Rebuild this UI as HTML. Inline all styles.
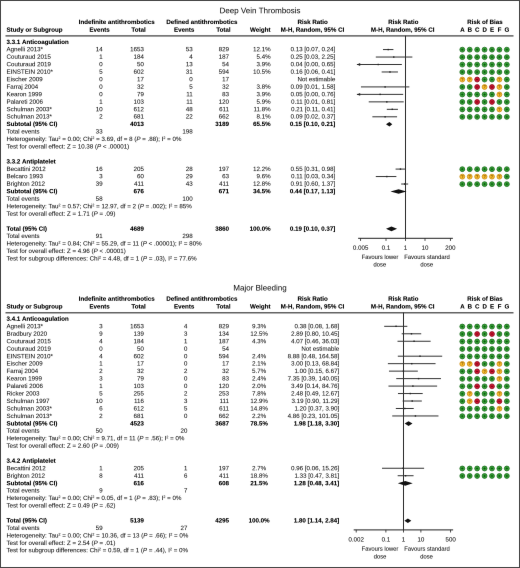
<!DOCTYPE html>
<html><head><meta charset="utf-8"><style>
html,body{margin:0;padding:0;background:#fff;}
#c{position:relative;width:520px;height:568px;overflow:hidden;background:#fff;filter:url(#kb);}
#bd{position:absolute;left:0;top:0;width:518px;height:566px;border:1px solid #454545;}
.t{position:absolute;white-space:nowrap;text-rendering:geometricPrecision;font-family:"Liberation Sans",sans-serif;line-height:10.0px;}
.t sup{font-size:60%;vertical-align:0;position:relative;top:-0.5em;line-height:0;}
svg{position:absolute;left:0;top:0;}
#tc{position:absolute;left:0;top:0;width:520px;height:568px;}
#c.cv .t{visibility:hidden;}
</style></head><body>
<svg width="0" height="0" style="position:absolute"><defs><filter id="kb" x="0" y="0" width="100%" height="100%" color-interpolation-filters="sRGB"><feConvolveMatrix order="3" kernelMatrix="0.0016 0.0371 0.0016 0.0371 0.8450 0.0371 0.0016 0.0371 0.0016" edgeMode="duplicate" preserveAlpha="true"/></filter></defs></svg>
<div id="c">
<svg width="520" height="568" viewBox="0 0 520 568"><rect x="5.5" y="35.30" width="508" height="1.2" fill="#3c3c3c"/>
<rect x="405.00" y="35.70" width="1" height="202.60" fill="#2a2a2a"/>
<rect x="358.13" y="237.80" width="94.74" height="1" fill="#222"/>
<rect x="360.23" y="238.30" width="0.8" height="2.6" fill="#222"/>
<rect x="385.60" y="238.30" width="0.8" height="2.6" fill="#222"/>
<rect x="405.10" y="238.30" width="0.8" height="2.6" fill="#222"/>
<rect x="424.60" y="238.30" width="0.8" height="2.6" fill="#222"/>
<rect x="449.97" y="238.30" width="0.8" height="2.6" fill="#222"/>
<line x1="382.98" y1="49.57" x2="393.41" y2="49.57" stroke="#333" stroke-width="1.0"/>
<rect x="387.52" y="48.87" width="1.4" height="1.4" fill="#222"/>
<circle cx="462.30" cy="49.67" r="2.45" fill="#35a534" stroke="#1d6a1f" stroke-width="0.80"/>
<path d="M461.20 49.67h2.2M462.30 48.57v2.2" stroke="#0b4a10" stroke-width="0.7"/>
<circle cx="469.72" cy="49.67" r="2.45" fill="#35a534" stroke="#1d6a1f" stroke-width="0.80"/>
<path d="M468.62 49.67h2.2M469.72 48.57v2.2" stroke="#0b4a10" stroke-width="0.7"/>
<circle cx="477.14" cy="49.67" r="2.45" fill="#35a534" stroke="#1d6a1f" stroke-width="0.80"/>
<path d="M476.04 49.67h2.2M477.14 48.57v2.2" stroke="#0b4a10" stroke-width="0.7"/>
<circle cx="484.56" cy="49.67" r="2.45" fill="#35a534" stroke="#1d6a1f" stroke-width="0.80"/>
<path d="M483.46 49.67h2.2M484.56 48.57v2.2" stroke="#0b4a10" stroke-width="0.7"/>
<circle cx="491.98" cy="49.67" r="2.45" fill="#35a534" stroke="#1d6a1f" stroke-width="0.80"/>
<path d="M490.88 49.67h2.2M491.98 48.57v2.2" stroke="#0b4a10" stroke-width="0.7"/>
<circle cx="499.40" cy="49.67" r="2.45" fill="#35a534" stroke="#1d6a1f" stroke-width="0.80"/>
<path d="M498.30 49.67h2.2M499.40 48.57v2.2" stroke="#0b4a10" stroke-width="0.7"/>
<circle cx="506.82" cy="49.67" r="2.45" fill="#35a534" stroke="#1d6a1f" stroke-width="0.80"/>
<path d="M505.72 49.67h2.2M506.82 48.57v2.2" stroke="#0b4a10" stroke-width="0.7"/>
<line x1="375.80" y1="57.04" x2="412.37" y2="57.04" stroke="#333" stroke-width="1.0"/>
<rect x="393.06" y="56.34" width="1.4" height="1.4" fill="#222"/>
<circle cx="462.30" cy="57.14" r="2.45" fill="#35a534" stroke="#1d6a1f" stroke-width="0.80"/>
<path d="M461.20 57.14h2.2M462.30 56.04v2.2" stroke="#0b4a10" stroke-width="0.7"/>
<circle cx="469.72" cy="57.14" r="2.45" fill="#35a534" stroke="#1d6a1f" stroke-width="0.80"/>
<path d="M468.62 57.14h2.2M469.72 56.04v2.2" stroke="#0b4a10" stroke-width="0.7"/>
<circle cx="477.14" cy="57.14" r="2.45" fill="#35a534" stroke="#1d6a1f" stroke-width="0.80"/>
<path d="M476.04 57.14h2.2M477.14 56.04v2.2" stroke="#0b4a10" stroke-width="0.7"/>
<circle cx="484.56" cy="57.14" r="2.45" fill="#35a534" stroke="#1d6a1f" stroke-width="0.80"/>
<path d="M483.46 57.14h2.2M484.56 56.04v2.2" stroke="#0b4a10" stroke-width="0.7"/>
<circle cx="491.98" cy="57.14" r="2.45" fill="#35a534" stroke="#1d6a1f" stroke-width="0.80"/>
<path d="M490.88 57.14h2.2M491.98 56.04v2.2" stroke="#0b4a10" stroke-width="0.7"/>
<circle cx="499.40" cy="57.14" r="2.45" fill="#35a534" stroke="#1d6a1f" stroke-width="0.80"/>
<path d="M498.30 57.14h2.2M499.40 56.04v2.2" stroke="#0b4a10" stroke-width="0.7"/>
<circle cx="506.82" cy="57.14" r="2.45" fill="#35a534" stroke="#1d6a1f" stroke-width="0.80"/>
<path d="M505.72 57.14h2.2M506.82 56.04v2.2" stroke="#0b4a10" stroke-width="0.7"/>
<line x1="356.90" y1="64.51" x2="401.85" y2="64.51" stroke="#333" stroke-width="1.0"/>
<rect x="377.54" y="63.81" width="1.4" height="1.4" fill="#222"/>
<path d="M356.90 64.51 l3.3 -1.45 v2.9z" fill="#222"/>
<circle cx="462.30" cy="64.61" r="2.45" fill="#35a534" stroke="#1d6a1f" stroke-width="0.80"/>
<path d="M461.20 64.61h2.2M462.30 63.51v2.2" stroke="#0b4a10" stroke-width="0.7"/>
<circle cx="469.72" cy="64.61" r="2.45" fill="#35a534" stroke="#1d6a1f" stroke-width="0.80"/>
<path d="M468.62 64.61h2.2M469.72 63.51v2.2" stroke="#0b4a10" stroke-width="0.7"/>
<circle cx="477.14" cy="64.61" r="2.45" fill="#35a534" stroke="#1d6a1f" stroke-width="0.80"/>
<path d="M476.04 64.61h2.2M477.14 63.51v2.2" stroke="#0b4a10" stroke-width="0.7"/>
<circle cx="484.56" cy="64.61" r="2.45" fill="#35a534" stroke="#1d6a1f" stroke-width="0.80"/>
<path d="M483.46 64.61h2.2M484.56 63.51v2.2" stroke="#0b4a10" stroke-width="0.7"/>
<circle cx="491.98" cy="64.61" r="2.45" fill="#35a534" stroke="#1d6a1f" stroke-width="0.80"/>
<path d="M490.88 64.61h2.2M491.98 63.51v2.2" stroke="#0b4a10" stroke-width="0.7"/>
<circle cx="499.40" cy="64.61" r="2.45" fill="#35a534" stroke="#1d6a1f" stroke-width="0.80"/>
<path d="M498.30 64.61h2.2M499.40 63.51v2.2" stroke="#0b4a10" stroke-width="0.7"/>
<circle cx="506.82" cy="64.61" r="2.45" fill="#35a534" stroke="#1d6a1f" stroke-width="0.80"/>
<path d="M505.72 64.61h2.2M506.82 63.51v2.2" stroke="#0b4a10" stroke-width="0.7"/>
<line x1="381.67" y1="71.98" x2="397.95" y2="71.98" stroke="#333" stroke-width="1.0"/>
<rect x="389.28" y="71.28" width="1.4" height="1.4" fill="#222"/>
<circle cx="462.30" cy="72.08" r="2.45" fill="#35a534" stroke="#1d6a1f" stroke-width="0.80"/>
<path d="M461.20 72.08h2.2M462.30 70.98v2.2" stroke="#0b4a10" stroke-width="0.7"/>
<circle cx="469.72" cy="72.08" r="2.45" fill="#35a534" stroke="#1d6a1f" stroke-width="0.80"/>
<path d="M468.62 72.08h2.2M469.72 70.98v2.2" stroke="#0b4a10" stroke-width="0.7"/>
<circle cx="477.14" cy="72.08" r="2.45" fill="#35a534" stroke="#1d6a1f" stroke-width="0.80"/>
<path d="M476.04 72.08h2.2M477.14 70.98v2.2" stroke="#0b4a10" stroke-width="0.7"/>
<circle cx="484.56" cy="72.08" r="2.45" fill="#35a534" stroke="#1d6a1f" stroke-width="0.80"/>
<path d="M483.46 72.08h2.2M484.56 70.98v2.2" stroke="#0b4a10" stroke-width="0.7"/>
<circle cx="491.98" cy="72.08" r="2.45" fill="#35a534" stroke="#1d6a1f" stroke-width="0.80"/>
<path d="M490.88 72.08h2.2M491.98 70.98v2.2" stroke="#0b4a10" stroke-width="0.7"/>
<circle cx="499.40" cy="72.08" r="2.45" fill="#35a534" stroke="#1d6a1f" stroke-width="0.80"/>
<path d="M498.30 72.08h2.2M499.40 70.98v2.2" stroke="#0b4a10" stroke-width="0.7"/>
<circle cx="506.82" cy="72.08" r="2.45" fill="#35a534" stroke="#1d6a1f" stroke-width="0.80"/>
<path d="M505.72 72.08h2.2M506.82 70.98v2.2" stroke="#0b4a10" stroke-width="0.7"/>
<circle cx="462.30" cy="79.55" r="2.45" fill="#f5b92c" stroke="#c98a12" stroke-width="0.80"/>
<text x="462.30" y="80.90" font-size="3.8" text-anchor="middle" fill="#7a5000" font-family="Liberation Sans" font-weight="bold">?</text>
<circle cx="469.72" cy="79.55" r="2.45" fill="#f5b92c" stroke="#c98a12" stroke-width="0.80"/>
<text x="469.72" y="80.90" font-size="3.8" text-anchor="middle" fill="#7a5000" font-family="Liberation Sans" font-weight="bold">?</text>
<circle cx="477.14" cy="79.55" r="2.45" fill="#cc1530" stroke="#8a0a1e" stroke-width="0.80"/>
<path d="M476.04 79.55h2.2" stroke="#5a0008" stroke-width="0.7"/>
<circle cx="484.56" cy="79.55" r="2.45" fill="#35a534" stroke="#1d6a1f" stroke-width="0.80"/>
<path d="M483.46 79.55h2.2M484.56 78.45v2.2" stroke="#0b4a10" stroke-width="0.7"/>
<circle cx="491.98" cy="79.55" r="2.45" fill="#35a534" stroke="#1d6a1f" stroke-width="0.80"/>
<path d="M490.88 79.55h2.2M491.98 78.45v2.2" stroke="#0b4a10" stroke-width="0.7"/>
<circle cx="499.40" cy="79.55" r="2.45" fill="#f5b92c" stroke="#c98a12" stroke-width="0.80"/>
<text x="499.40" y="80.90" font-size="3.8" text-anchor="middle" fill="#7a5000" font-family="Liberation Sans" font-weight="bold">?</text>
<circle cx="506.82" cy="79.55" r="2.45" fill="#35a534" stroke="#1d6a1f" stroke-width="0.80"/>
<path d="M505.72 79.55h2.2M506.82 78.45v2.2" stroke="#0b4a10" stroke-width="0.7"/>
<line x1="360.96" y1="86.92" x2="409.37" y2="86.92" stroke="#333" stroke-width="1.0"/>
<rect x="384.41" y="86.22" width="1.4" height="1.4" fill="#222"/>
<circle cx="462.30" cy="87.02" r="2.45" fill="#35a534" stroke="#1d6a1f" stroke-width="0.80"/>
<path d="M461.20 87.02h2.2M462.30 85.92v2.2" stroke="#0b4a10" stroke-width="0.7"/>
<circle cx="469.72" cy="87.02" r="2.45" fill="#35a534" stroke="#1d6a1f" stroke-width="0.80"/>
<path d="M468.62 87.02h2.2M469.72 85.92v2.2" stroke="#0b4a10" stroke-width="0.7"/>
<circle cx="477.14" cy="87.02" r="2.45" fill="#cc1530" stroke="#8a0a1e" stroke-width="0.80"/>
<path d="M476.04 87.02h2.2" stroke="#5a0008" stroke-width="0.7"/>
<circle cx="484.56" cy="87.02" r="2.45" fill="#f5b92c" stroke="#c98a12" stroke-width="0.80"/>
<text x="484.56" y="88.37" font-size="3.8" text-anchor="middle" fill="#7a5000" font-family="Liberation Sans" font-weight="bold">?</text>
<circle cx="491.98" cy="87.02" r="2.45" fill="#cc1530" stroke="#8a0a1e" stroke-width="0.80"/>
<path d="M490.88 87.02h2.2" stroke="#5a0008" stroke-width="0.7"/>
<circle cx="499.40" cy="87.02" r="2.45" fill="#f5b92c" stroke="#c98a12" stroke-width="0.80"/>
<text x="499.40" y="88.37" font-size="3.8" text-anchor="middle" fill="#7a5000" font-family="Liberation Sans" font-weight="bold">?</text>
<circle cx="506.82" cy="87.02" r="2.45" fill="#35a534" stroke="#1d6a1f" stroke-width="0.80"/>
<path d="M505.72 87.02h2.2M506.82 85.92v2.2" stroke="#0b4a10" stroke-width="0.7"/>
<line x1="356.90" y1="94.39" x2="403.18" y2="94.39" stroke="#333" stroke-width="1.0"/>
<rect x="379.43" y="93.69" width="1.4" height="1.4" fill="#222"/>
<path d="M356.90 94.39 l3.3 -1.45 v2.9z" fill="#222"/>
<circle cx="462.30" cy="94.49" r="2.45" fill="#35a534" stroke="#1d6a1f" stroke-width="0.80"/>
<path d="M461.20 94.49h2.2M462.30 93.39v2.2" stroke="#0b4a10" stroke-width="0.7"/>
<circle cx="469.72" cy="94.49" r="2.45" fill="#35a534" stroke="#1d6a1f" stroke-width="0.80"/>
<path d="M468.62 94.49h2.2M469.72 93.39v2.2" stroke="#0b4a10" stroke-width="0.7"/>
<circle cx="477.14" cy="94.49" r="2.45" fill="#35a534" stroke="#1d6a1f" stroke-width="0.80"/>
<path d="M476.04 94.49h2.2M477.14 93.39v2.2" stroke="#0b4a10" stroke-width="0.7"/>
<circle cx="484.56" cy="94.49" r="2.45" fill="#35a534" stroke="#1d6a1f" stroke-width="0.80"/>
<path d="M483.46 94.49h2.2M484.56 93.39v2.2" stroke="#0b4a10" stroke-width="0.7"/>
<circle cx="491.98" cy="94.49" r="2.45" fill="#35a534" stroke="#1d6a1f" stroke-width="0.80"/>
<path d="M490.88 94.49h2.2M491.98 93.39v2.2" stroke="#0b4a10" stroke-width="0.7"/>
<circle cx="499.40" cy="94.49" r="2.45" fill="#f5b92c" stroke="#c98a12" stroke-width="0.80"/>
<text x="499.40" y="95.84" font-size="3.8" text-anchor="middle" fill="#7a5000" font-family="Liberation Sans" font-weight="bold">?</text>
<circle cx="506.82" cy="94.49" r="2.45" fill="#35a534" stroke="#1d6a1f" stroke-width="0.80"/>
<path d="M505.72 94.49h2.2M506.82 93.39v2.2" stroke="#0b4a10" stroke-width="0.7"/>
<line x1="368.72" y1="101.86" x2="403.72" y2="101.86" stroke="#333" stroke-width="1.0"/>
<rect x="386.11" y="101.16" width="1.4" height="1.4" fill="#222"/>
<circle cx="462.30" cy="101.96" r="2.45" fill="#35a534" stroke="#1d6a1f" stroke-width="0.80"/>
<path d="M461.20 101.96h2.2M462.30 100.86v2.2" stroke="#0b4a10" stroke-width="0.7"/>
<circle cx="469.72" cy="101.96" r="2.45" fill="#35a534" stroke="#1d6a1f" stroke-width="0.80"/>
<path d="M468.62 101.96h2.2M469.72 100.86v2.2" stroke="#0b4a10" stroke-width="0.7"/>
<circle cx="477.14" cy="101.96" r="2.45" fill="#cc1530" stroke="#8a0a1e" stroke-width="0.80"/>
<path d="M476.04 101.96h2.2" stroke="#5a0008" stroke-width="0.7"/>
<circle cx="484.56" cy="101.96" r="2.45" fill="#35a534" stroke="#1d6a1f" stroke-width="0.80"/>
<path d="M483.46 101.96h2.2M484.56 100.86v2.2" stroke="#0b4a10" stroke-width="0.7"/>
<circle cx="491.98" cy="101.96" r="2.45" fill="#cc1530" stroke="#8a0a1e" stroke-width="0.80"/>
<path d="M490.88 101.96h2.2" stroke="#5a0008" stroke-width="0.7"/>
<circle cx="499.40" cy="101.96" r="2.45" fill="#35a534" stroke="#1d6a1f" stroke-width="0.80"/>
<path d="M498.30 101.96h2.2M499.40 100.86v2.2" stroke="#0b4a10" stroke-width="0.7"/>
<circle cx="506.82" cy="101.96" r="2.45" fill="#35a534" stroke="#1d6a1f" stroke-width="0.80"/>
<path d="M505.72 101.96h2.2M506.82 100.86v2.2" stroke="#0b4a10" stroke-width="0.7"/>
<line x1="386.81" y1="109.33" x2="397.95" y2="109.33" stroke="#333" stroke-width="1.0"/>
<rect x="391.58" y="108.63" width="1.4" height="1.4" fill="#222"/>
<circle cx="462.30" cy="109.43" r="2.45" fill="#35a534" stroke="#1d6a1f" stroke-width="0.80"/>
<path d="M461.20 109.43h2.2M462.30 108.33v2.2" stroke="#0b4a10" stroke-width="0.7"/>
<circle cx="469.72" cy="109.43" r="2.45" fill="#35a534" stroke="#1d6a1f" stroke-width="0.80"/>
<path d="M468.62 109.43h2.2M469.72 108.33v2.2" stroke="#0b4a10" stroke-width="0.7"/>
<circle cx="477.14" cy="109.43" r="2.45" fill="#35a534" stroke="#1d6a1f" stroke-width="0.80"/>
<path d="M476.04 109.43h2.2M477.14 108.33v2.2" stroke="#0b4a10" stroke-width="0.7"/>
<circle cx="484.56" cy="109.43" r="2.45" fill="#35a534" stroke="#1d6a1f" stroke-width="0.80"/>
<path d="M483.46 109.43h2.2M484.56 108.33v2.2" stroke="#0b4a10" stroke-width="0.7"/>
<circle cx="491.98" cy="109.43" r="2.45" fill="#35a534" stroke="#1d6a1f" stroke-width="0.80"/>
<path d="M490.88 109.43h2.2M491.98 108.33v2.2" stroke="#0b4a10" stroke-width="0.7"/>
<circle cx="499.40" cy="109.43" r="2.45" fill="#f5b92c" stroke="#c98a12" stroke-width="0.80"/>
<text x="499.40" y="110.78" font-size="3.8" text-anchor="middle" fill="#7a5000" font-family="Liberation Sans" font-weight="bold">?</text>
<circle cx="506.82" cy="109.43" r="2.45" fill="#35a534" stroke="#1d6a1f" stroke-width="0.80"/>
<path d="M505.72 109.43h2.2M506.82 108.33v2.2" stroke="#0b4a10" stroke-width="0.7"/>
<line x1="372.37" y1="116.80" x2="397.08" y2="116.80" stroke="#333" stroke-width="1.0"/>
<rect x="384.41" y="116.10" width="1.4" height="1.4" fill="#222"/>
<circle cx="462.30" cy="116.90" r="2.45" fill="#35a534" stroke="#1d6a1f" stroke-width="0.80"/>
<path d="M461.20 116.90h2.2M462.30 115.80v2.2" stroke="#0b4a10" stroke-width="0.7"/>
<circle cx="469.72" cy="116.90" r="2.45" fill="#35a534" stroke="#1d6a1f" stroke-width="0.80"/>
<path d="M468.62 116.90h2.2M469.72 115.80v2.2" stroke="#0b4a10" stroke-width="0.7"/>
<circle cx="477.14" cy="116.90" r="2.45" fill="#35a534" stroke="#1d6a1f" stroke-width="0.80"/>
<path d="M476.04 116.90h2.2M477.14 115.80v2.2" stroke="#0b4a10" stroke-width="0.7"/>
<circle cx="484.56" cy="116.90" r="2.45" fill="#35a534" stroke="#1d6a1f" stroke-width="0.80"/>
<path d="M483.46 116.90h2.2M484.56 115.80v2.2" stroke="#0b4a10" stroke-width="0.7"/>
<circle cx="491.98" cy="116.90" r="2.45" fill="#35a534" stroke="#1d6a1f" stroke-width="0.80"/>
<path d="M490.88 116.90h2.2M491.98 115.80v2.2" stroke="#0b4a10" stroke-width="0.7"/>
<circle cx="499.40" cy="116.90" r="2.45" fill="#35a534" stroke="#1d6a1f" stroke-width="0.80"/>
<path d="M498.30 116.90h2.2M499.40 115.80v2.2" stroke="#0b4a10" stroke-width="0.7"/>
<circle cx="506.82" cy="116.90" r="2.45" fill="#35a534" stroke="#1d6a1f" stroke-width="0.80"/>
<path d="M505.72 116.90h2.2M506.82 115.80v2.2" stroke="#0b4a10" stroke-width="0.7"/>
<path d="M386.00 124.27 L389.43 121.97 L392.28 124.27 L389.43 126.57Z" fill="#111"/>
<line x1="395.58" y1="169.09" x2="405.33" y2="169.09" stroke="#333" stroke-width="1.0"/>
<rect x="399.74" y="168.39" width="1.4" height="1.4" fill="#222"/>
<circle cx="462.30" cy="169.19" r="2.45" fill="#35a534" stroke="#1d6a1f" stroke-width="0.80"/>
<path d="M461.20 169.19h2.2M462.30 168.09v2.2" stroke="#0b4a10" stroke-width="0.7"/>
<circle cx="469.72" cy="169.19" r="2.45" fill="#35a534" stroke="#1d6a1f" stroke-width="0.80"/>
<path d="M468.62 169.19h2.2M469.72 168.09v2.2" stroke="#0b4a10" stroke-width="0.7"/>
<circle cx="477.14" cy="169.19" r="2.45" fill="#35a534" stroke="#1d6a1f" stroke-width="0.80"/>
<path d="M476.04 169.19h2.2M477.14 168.09v2.2" stroke="#0b4a10" stroke-width="0.7"/>
<circle cx="484.56" cy="169.19" r="2.45" fill="#35a534" stroke="#1d6a1f" stroke-width="0.80"/>
<path d="M483.46 169.19h2.2M484.56 168.09v2.2" stroke="#0b4a10" stroke-width="0.7"/>
<circle cx="491.98" cy="169.19" r="2.45" fill="#35a534" stroke="#1d6a1f" stroke-width="0.80"/>
<path d="M490.88 169.19h2.2M491.98 168.09v2.2" stroke="#0b4a10" stroke-width="0.7"/>
<circle cx="499.40" cy="169.19" r="2.45" fill="#35a534" stroke="#1d6a1f" stroke-width="0.80"/>
<path d="M498.30 169.19h2.2M499.40 168.09v2.2" stroke="#0b4a10" stroke-width="0.7"/>
<circle cx="506.82" cy="169.19" r="2.45" fill="#35a534" stroke="#1d6a1f" stroke-width="0.80"/>
<path d="M505.72 169.19h2.2M506.82 168.09v2.2" stroke="#0b4a10" stroke-width="0.7"/>
<line x1="375.80" y1="176.56" x2="396.36" y2="176.56" stroke="#333" stroke-width="1.0"/>
<rect x="386.11" y="175.86" width="1.4" height="1.4" fill="#222"/>
<circle cx="462.30" cy="176.66" r="2.45" fill="#f5b92c" stroke="#c98a12" stroke-width="0.80"/>
<text x="462.30" y="178.01" font-size="3.8" text-anchor="middle" fill="#7a5000" font-family="Liberation Sans" font-weight="bold">?</text>
<circle cx="469.72" cy="176.66" r="2.45" fill="#f5b92c" stroke="#c98a12" stroke-width="0.80"/>
<text x="469.72" y="178.01" font-size="3.8" text-anchor="middle" fill="#7a5000" font-family="Liberation Sans" font-weight="bold">?</text>
<circle cx="477.14" cy="176.66" r="2.45" fill="#f5b92c" stroke="#c98a12" stroke-width="0.80"/>
<text x="477.14" y="178.01" font-size="3.8" text-anchor="middle" fill="#7a5000" font-family="Liberation Sans" font-weight="bold">?</text>
<circle cx="484.56" cy="176.66" r="2.45" fill="#f5b92c" stroke="#c98a12" stroke-width="0.80"/>
<text x="484.56" y="178.01" font-size="3.8" text-anchor="middle" fill="#7a5000" font-family="Liberation Sans" font-weight="bold">?</text>
<circle cx="491.98" cy="176.66" r="2.45" fill="#f5b92c" stroke="#c98a12" stroke-width="0.80"/>
<text x="491.98" y="178.01" font-size="3.8" text-anchor="middle" fill="#7a5000" font-family="Liberation Sans" font-weight="bold">?</text>
<circle cx="499.40" cy="176.66" r="2.45" fill="#f5b92c" stroke="#c98a12" stroke-width="0.80"/>
<text x="499.40" y="178.01" font-size="3.8" text-anchor="middle" fill="#7a5000" font-family="Liberation Sans" font-weight="bold">?</text>
<circle cx="506.82" cy="176.66" r="2.45" fill="#35a534" stroke="#1d6a1f" stroke-width="0.80"/>
<path d="M505.72 176.66h2.2M506.82 175.56v2.2" stroke="#0b4a10" stroke-width="0.7"/>
<line x1="401.17" y1="184.03" x2="408.17" y2="184.03" stroke="#333" stroke-width="1.0"/>
<rect x="404.00" y="183.33" width="1.4" height="1.4" fill="#222"/>
<circle cx="462.30" cy="184.13" r="2.45" fill="#35a534" stroke="#1d6a1f" stroke-width="0.80"/>
<path d="M461.20 184.13h2.2M462.30 183.03v2.2" stroke="#0b4a10" stroke-width="0.7"/>
<circle cx="469.72" cy="184.13" r="2.45" fill="#35a534" stroke="#1d6a1f" stroke-width="0.80"/>
<path d="M468.62 184.13h2.2M469.72 183.03v2.2" stroke="#0b4a10" stroke-width="0.7"/>
<circle cx="477.14" cy="184.13" r="2.45" fill="#35a534" stroke="#1d6a1f" stroke-width="0.80"/>
<path d="M476.04 184.13h2.2M477.14 183.03v2.2" stroke="#0b4a10" stroke-width="0.7"/>
<circle cx="484.56" cy="184.13" r="2.45" fill="#35a534" stroke="#1d6a1f" stroke-width="0.80"/>
<path d="M483.46 184.13h2.2M484.56 183.03v2.2" stroke="#0b4a10" stroke-width="0.7"/>
<circle cx="491.98" cy="184.13" r="2.45" fill="#35a534" stroke="#1d6a1f" stroke-width="0.80"/>
<path d="M490.88 184.13h2.2M491.98 183.03v2.2" stroke="#0b4a10" stroke-width="0.7"/>
<circle cx="499.40" cy="184.13" r="2.45" fill="#35a534" stroke="#1d6a1f" stroke-width="0.80"/>
<path d="M498.30 184.13h2.2M499.40 183.03v2.2" stroke="#0b4a10" stroke-width="0.7"/>
<circle cx="506.82" cy="184.13" r="2.45" fill="#35a534" stroke="#1d6a1f" stroke-width="0.80"/>
<path d="M505.72 184.13h2.2M506.82 183.03v2.2" stroke="#0b4a10" stroke-width="0.7"/>
<path d="M390.49 191.50 L398.55 189.20 L406.54 191.50 L398.55 193.80Z" fill="#111"/>
<path d="M386.00 228.85 L391.44 226.55 L397.08 228.85 L391.44 231.15Z" fill="#111"/>
<rect x="5.5" y="312.20" width="508" height="1.2" fill="#3c3c3c"/>
<rect x="403.00" y="312.60" width="1" height="217.30" fill="#2a2a2a"/>
<rect x="353.67" y="529.40" width="99.46" height="1" fill="#222"/>
<rect x="355.77" y="529.90" width="0.8" height="2.6" fill="#222"/>
<rect x="385.50" y="529.90" width="0.8" height="2.6" fill="#222"/>
<rect x="403.00" y="529.90" width="0.8" height="2.6" fill="#222"/>
<rect x="420.50" y="529.90" width="0.8" height="2.6" fill="#222"/>
<rect x="450.23" y="529.90" width="0.8" height="2.6" fill="#222"/>
<line x1="384.20" y1="326.32" x2="407.34" y2="326.32" stroke="#333" stroke-width="1.0"/>
<rect x="395.35" y="325.62" width="1.4" height="1.4" fill="#222"/>
<circle cx="462.30" cy="326.57" r="2.45" fill="#35a534" stroke="#1d6a1f" stroke-width="0.80"/>
<path d="M461.20 326.57h2.2M462.30 325.47v2.2" stroke="#0b4a10" stroke-width="0.7"/>
<circle cx="469.72" cy="326.57" r="2.45" fill="#35a534" stroke="#1d6a1f" stroke-width="0.80"/>
<path d="M468.62 326.57h2.2M469.72 325.47v2.2" stroke="#0b4a10" stroke-width="0.7"/>
<circle cx="477.14" cy="326.57" r="2.45" fill="#35a534" stroke="#1d6a1f" stroke-width="0.80"/>
<path d="M476.04 326.57h2.2M477.14 325.47v2.2" stroke="#0b4a10" stroke-width="0.7"/>
<circle cx="484.56" cy="326.57" r="2.45" fill="#35a534" stroke="#1d6a1f" stroke-width="0.80"/>
<path d="M483.46 326.57h2.2M484.56 325.47v2.2" stroke="#0b4a10" stroke-width="0.7"/>
<circle cx="491.98" cy="326.57" r="2.45" fill="#35a534" stroke="#1d6a1f" stroke-width="0.80"/>
<path d="M490.88 326.57h2.2M491.98 325.47v2.2" stroke="#0b4a10" stroke-width="0.7"/>
<circle cx="499.40" cy="326.57" r="2.45" fill="#35a534" stroke="#1d6a1f" stroke-width="0.80"/>
<path d="M498.30 326.57h2.2M499.40 325.47v2.2" stroke="#0b4a10" stroke-width="0.7"/>
<circle cx="506.82" cy="326.57" r="2.45" fill="#35a534" stroke="#1d6a1f" stroke-width="0.80"/>
<path d="M505.72 326.57h2.2M506.82 325.47v2.2" stroke="#0b4a10" stroke-width="0.7"/>
<line x1="401.70" y1="333.79" x2="421.23" y2="333.79" stroke="#333" stroke-width="1.0"/>
<rect x="410.77" y="333.09" width="1.4" height="1.4" fill="#222"/>
<circle cx="462.30" cy="334.04" r="2.45" fill="#35a534" stroke="#1d6a1f" stroke-width="0.80"/>
<path d="M461.20 334.04h2.2M462.30 332.94v2.2" stroke="#0b4a10" stroke-width="0.7"/>
<circle cx="469.72" cy="334.04" r="2.45" fill="#35a534" stroke="#1d6a1f" stroke-width="0.80"/>
<path d="M468.62 334.04h2.2M469.72 332.94v2.2" stroke="#0b4a10" stroke-width="0.7"/>
<circle cx="477.14" cy="334.04" r="2.45" fill="#cc1530" stroke="#8a0a1e" stroke-width="0.80"/>
<path d="M476.04 334.04h2.2" stroke="#5a0008" stroke-width="0.7"/>
<circle cx="484.56" cy="334.04" r="2.45" fill="#35a534" stroke="#1d6a1f" stroke-width="0.80"/>
<path d="M483.46 334.04h2.2M484.56 332.94v2.2" stroke="#0b4a10" stroke-width="0.7"/>
<circle cx="491.98" cy="334.04" r="2.45" fill="#cc1530" stroke="#8a0a1e" stroke-width="0.80"/>
<path d="M490.88 334.04h2.2" stroke="#5a0008" stroke-width="0.7"/>
<circle cx="499.40" cy="334.04" r="2.45" fill="#35a534" stroke="#1d6a1f" stroke-width="0.80"/>
<path d="M498.30 334.04h2.2M499.40 332.94v2.2" stroke="#0b4a10" stroke-width="0.7"/>
<circle cx="506.82" cy="334.04" r="2.45" fill="#35a534" stroke="#1d6a1f" stroke-width="0.80"/>
<path d="M505.72 334.04h2.2M506.82 332.94v2.2" stroke="#0b4a10" stroke-width="0.7"/>
<line x1="397.50" y1="341.26" x2="430.64" y2="341.26" stroke="#333" stroke-width="1.0"/>
<rect x="413.37" y="340.56" width="1.4" height="1.4" fill="#222"/>
<circle cx="462.30" cy="341.51" r="2.45" fill="#35a534" stroke="#1d6a1f" stroke-width="0.80"/>
<path d="M461.20 341.51h2.2M462.30 340.41v2.2" stroke="#0b4a10" stroke-width="0.7"/>
<circle cx="469.72" cy="341.51" r="2.45" fill="#35a534" stroke="#1d6a1f" stroke-width="0.80"/>
<path d="M468.62 341.51h2.2M469.72 340.41v2.2" stroke="#0b4a10" stroke-width="0.7"/>
<circle cx="477.14" cy="341.51" r="2.45" fill="#35a534" stroke="#1d6a1f" stroke-width="0.80"/>
<path d="M476.04 341.51h2.2M477.14 340.41v2.2" stroke="#0b4a10" stroke-width="0.7"/>
<circle cx="484.56" cy="341.51" r="2.45" fill="#35a534" stroke="#1d6a1f" stroke-width="0.80"/>
<path d="M483.46 341.51h2.2M484.56 340.41v2.2" stroke="#0b4a10" stroke-width="0.7"/>
<circle cx="491.98" cy="341.51" r="2.45" fill="#35a534" stroke="#1d6a1f" stroke-width="0.80"/>
<path d="M490.88 341.51h2.2M491.98 340.41v2.2" stroke="#0b4a10" stroke-width="0.7"/>
<circle cx="499.40" cy="341.51" r="2.45" fill="#35a534" stroke="#1d6a1f" stroke-width="0.80"/>
<path d="M498.30 341.51h2.2M499.40 340.41v2.2" stroke="#0b4a10" stroke-width="0.7"/>
<circle cx="506.82" cy="341.51" r="2.45" fill="#35a534" stroke="#1d6a1f" stroke-width="0.80"/>
<path d="M505.72 341.51h2.2M506.82 340.41v2.2" stroke="#0b4a10" stroke-width="0.7"/>
<circle cx="462.30" cy="348.98" r="2.45" fill="#35a534" stroke="#1d6a1f" stroke-width="0.80"/>
<path d="M461.20 348.98h2.2M462.30 347.88v2.2" stroke="#0b4a10" stroke-width="0.7"/>
<circle cx="469.72" cy="348.98" r="2.45" fill="#35a534" stroke="#1d6a1f" stroke-width="0.80"/>
<path d="M468.62 348.98h2.2M469.72 347.88v2.2" stroke="#0b4a10" stroke-width="0.7"/>
<circle cx="477.14" cy="348.98" r="2.45" fill="#35a534" stroke="#1d6a1f" stroke-width="0.80"/>
<path d="M476.04 348.98h2.2M477.14 347.88v2.2" stroke="#0b4a10" stroke-width="0.7"/>
<circle cx="484.56" cy="348.98" r="2.45" fill="#35a534" stroke="#1d6a1f" stroke-width="0.80"/>
<path d="M483.46 348.98h2.2M484.56 347.88v2.2" stroke="#0b4a10" stroke-width="0.7"/>
<circle cx="491.98" cy="348.98" r="2.45" fill="#35a534" stroke="#1d6a1f" stroke-width="0.80"/>
<path d="M490.88 348.98h2.2M491.98 347.88v2.2" stroke="#0b4a10" stroke-width="0.7"/>
<circle cx="499.40" cy="348.98" r="2.45" fill="#35a534" stroke="#1d6a1f" stroke-width="0.80"/>
<path d="M498.30 348.98h2.2M499.40 347.88v2.2" stroke="#0b4a10" stroke-width="0.7"/>
<circle cx="506.82" cy="348.98" r="2.45" fill="#35a534" stroke="#1d6a1f" stroke-width="0.80"/>
<path d="M505.72 348.98h2.2M506.82 347.88v2.2" stroke="#0b4a10" stroke-width="0.7"/>
<line x1="397.82" y1="356.20" x2="442.19" y2="356.20" stroke="#333" stroke-width="1.0"/>
<rect x="419.30" y="355.50" width="1.4" height="1.4" fill="#222"/>
<circle cx="462.30" cy="356.45" r="2.45" fill="#35a534" stroke="#1d6a1f" stroke-width="0.80"/>
<path d="M461.20 356.45h2.2M462.30 355.35v2.2" stroke="#0b4a10" stroke-width="0.7"/>
<circle cx="469.72" cy="356.45" r="2.45" fill="#35a534" stroke="#1d6a1f" stroke-width="0.80"/>
<path d="M468.62 356.45h2.2M469.72 355.35v2.2" stroke="#0b4a10" stroke-width="0.7"/>
<circle cx="477.14" cy="356.45" r="2.45" fill="#35a534" stroke="#1d6a1f" stroke-width="0.80"/>
<path d="M476.04 356.45h2.2M477.14 355.35v2.2" stroke="#0b4a10" stroke-width="0.7"/>
<circle cx="484.56" cy="356.45" r="2.45" fill="#35a534" stroke="#1d6a1f" stroke-width="0.80"/>
<path d="M483.46 356.45h2.2M484.56 355.35v2.2" stroke="#0b4a10" stroke-width="0.7"/>
<circle cx="491.98" cy="356.45" r="2.45" fill="#35a534" stroke="#1d6a1f" stroke-width="0.80"/>
<path d="M490.88 356.45h2.2M491.98 355.35v2.2" stroke="#0b4a10" stroke-width="0.7"/>
<circle cx="499.40" cy="356.45" r="2.45" fill="#35a534" stroke="#1d6a1f" stroke-width="0.80"/>
<path d="M498.30 356.45h2.2M499.40 355.35v2.2" stroke="#0b4a10" stroke-width="0.7"/>
<circle cx="506.82" cy="356.45" r="2.45" fill="#35a534" stroke="#1d6a1f" stroke-width="0.80"/>
<path d="M505.72 356.45h2.2M506.82 355.35v2.2" stroke="#0b4a10" stroke-width="0.7"/>
<line x1="387.89" y1="363.67" x2="435.56" y2="363.67" stroke="#333" stroke-width="1.0"/>
<rect x="411.05" y="362.97" width="1.4" height="1.4" fill="#222"/>
<circle cx="462.30" cy="363.92" r="2.45" fill="#f5b92c" stroke="#c98a12" stroke-width="0.80"/>
<text x="462.30" y="365.27" font-size="3.8" text-anchor="middle" fill="#7a5000" font-family="Liberation Sans" font-weight="bold">?</text>
<circle cx="469.72" cy="363.92" r="2.45" fill="#f5b92c" stroke="#c98a12" stroke-width="0.80"/>
<text x="469.72" y="365.27" font-size="3.8" text-anchor="middle" fill="#7a5000" font-family="Liberation Sans" font-weight="bold">?</text>
<circle cx="477.14" cy="363.92" r="2.45" fill="#cc1530" stroke="#8a0a1e" stroke-width="0.80"/>
<path d="M476.04 363.92h2.2" stroke="#5a0008" stroke-width="0.7"/>
<circle cx="484.56" cy="363.92" r="2.45" fill="#35a534" stroke="#1d6a1f" stroke-width="0.80"/>
<path d="M483.46 363.92h2.2M484.56 362.82v2.2" stroke="#0b4a10" stroke-width="0.7"/>
<circle cx="491.98" cy="363.92" r="2.45" fill="#35a534" stroke="#1d6a1f" stroke-width="0.80"/>
<path d="M490.88 363.92h2.2M491.98 362.82v2.2" stroke="#0b4a10" stroke-width="0.7"/>
<circle cx="499.40" cy="363.92" r="2.45" fill="#f5b92c" stroke="#c98a12" stroke-width="0.80"/>
<text x="499.40" y="365.27" font-size="3.8" text-anchor="middle" fill="#7a5000" font-family="Liberation Sans" font-weight="bold">?</text>
<circle cx="506.82" cy="363.92" r="2.45" fill="#35a534" stroke="#1d6a1f" stroke-width="0.80"/>
<path d="M505.72 363.92h2.2M506.82 362.82v2.2" stroke="#0b4a10" stroke-width="0.7"/>
<line x1="388.98" y1="371.14" x2="417.82" y2="371.14" stroke="#333" stroke-width="1.0"/>
<rect x="402.70" y="370.44" width="1.4" height="1.4" fill="#222"/>
<circle cx="462.30" cy="371.39" r="2.45" fill="#35a534" stroke="#1d6a1f" stroke-width="0.80"/>
<path d="M461.20 371.39h2.2M462.30 370.29v2.2" stroke="#0b4a10" stroke-width="0.7"/>
<circle cx="469.72" cy="371.39" r="2.45" fill="#35a534" stroke="#1d6a1f" stroke-width="0.80"/>
<path d="M468.62 371.39h2.2M469.72 370.29v2.2" stroke="#0b4a10" stroke-width="0.7"/>
<circle cx="477.14" cy="371.39" r="2.45" fill="#cc1530" stroke="#8a0a1e" stroke-width="0.80"/>
<path d="M476.04 371.39h2.2" stroke="#5a0008" stroke-width="0.7"/>
<circle cx="484.56" cy="371.39" r="2.45" fill="#f5b92c" stroke="#c98a12" stroke-width="0.80"/>
<text x="484.56" y="372.74" font-size="3.8" text-anchor="middle" fill="#7a5000" font-family="Liberation Sans" font-weight="bold">?</text>
<circle cx="491.98" cy="371.39" r="2.45" fill="#cc1530" stroke="#8a0a1e" stroke-width="0.80"/>
<path d="M490.88 371.39h2.2" stroke="#5a0008" stroke-width="0.7"/>
<circle cx="499.40" cy="371.39" r="2.45" fill="#f5b92c" stroke="#c98a12" stroke-width="0.80"/>
<text x="499.40" y="372.74" font-size="3.8" text-anchor="middle" fill="#7a5000" font-family="Liberation Sans" font-weight="bold">?</text>
<circle cx="506.82" cy="371.39" r="2.45" fill="#35a534" stroke="#1d6a1f" stroke-width="0.80"/>
<path d="M505.72 371.39h2.2M506.82 370.29v2.2" stroke="#0b4a10" stroke-width="0.7"/>
<line x1="396.24" y1="378.61" x2="440.96" y2="378.61" stroke="#333" stroke-width="1.0"/>
<rect x="417.86" y="377.91" width="1.4" height="1.4" fill="#222"/>
<circle cx="462.30" cy="378.86" r="2.45" fill="#35a534" stroke="#1d6a1f" stroke-width="0.80"/>
<path d="M461.20 378.86h2.2M462.30 377.76v2.2" stroke="#0b4a10" stroke-width="0.7"/>
<circle cx="469.72" cy="378.86" r="2.45" fill="#35a534" stroke="#1d6a1f" stroke-width="0.80"/>
<path d="M468.62 378.86h2.2M469.72 377.76v2.2" stroke="#0b4a10" stroke-width="0.7"/>
<circle cx="477.14" cy="378.86" r="2.45" fill="#35a534" stroke="#1d6a1f" stroke-width="0.80"/>
<path d="M476.04 378.86h2.2M477.14 377.76v2.2" stroke="#0b4a10" stroke-width="0.7"/>
<circle cx="484.56" cy="378.86" r="2.45" fill="#35a534" stroke="#1d6a1f" stroke-width="0.80"/>
<path d="M483.46 378.86h2.2M484.56 377.76v2.2" stroke="#0b4a10" stroke-width="0.7"/>
<circle cx="491.98" cy="378.86" r="2.45" fill="#35a534" stroke="#1d6a1f" stroke-width="0.80"/>
<path d="M490.88 378.86h2.2M491.98 377.76v2.2" stroke="#0b4a10" stroke-width="0.7"/>
<circle cx="499.40" cy="378.86" r="2.45" fill="#f5b92c" stroke="#c98a12" stroke-width="0.80"/>
<text x="499.40" y="380.21" font-size="3.8" text-anchor="middle" fill="#7a5000" font-family="Liberation Sans" font-weight="bold">?</text>
<circle cx="506.82" cy="378.86" r="2.45" fill="#35a534" stroke="#1d6a1f" stroke-width="0.80"/>
<path d="M505.72 378.86h2.2M506.82 377.76v2.2" stroke="#0b4a10" stroke-width="0.7"/>
<line x1="388.46" y1="386.08" x2="437.14" y2="386.08" stroke="#333" stroke-width="1.0"/>
<rect x="412.20" y="385.38" width="1.4" height="1.4" fill="#222"/>
<circle cx="462.30" cy="386.33" r="2.45" fill="#35a534" stroke="#1d6a1f" stroke-width="0.80"/>
<path d="M461.20 386.33h2.2M462.30 385.23v2.2" stroke="#0b4a10" stroke-width="0.7"/>
<circle cx="469.72" cy="386.33" r="2.45" fill="#35a534" stroke="#1d6a1f" stroke-width="0.80"/>
<path d="M468.62 386.33h2.2M469.72 385.23v2.2" stroke="#0b4a10" stroke-width="0.7"/>
<circle cx="477.14" cy="386.33" r="2.45" fill="#cc1530" stroke="#8a0a1e" stroke-width="0.80"/>
<path d="M476.04 386.33h2.2" stroke="#5a0008" stroke-width="0.7"/>
<circle cx="484.56" cy="386.33" r="2.45" fill="#35a534" stroke="#1d6a1f" stroke-width="0.80"/>
<path d="M483.46 386.33h2.2M484.56 385.23v2.2" stroke="#0b4a10" stroke-width="0.7"/>
<circle cx="491.98" cy="386.33" r="2.45" fill="#cc1530" stroke="#8a0a1e" stroke-width="0.80"/>
<path d="M490.88 386.33h2.2" stroke="#5a0008" stroke-width="0.7"/>
<circle cx="499.40" cy="386.33" r="2.45" fill="#35a534" stroke="#1d6a1f" stroke-width="0.80"/>
<path d="M498.30 386.33h2.2M499.40 385.23v2.2" stroke="#0b4a10" stroke-width="0.7"/>
<circle cx="506.82" cy="386.33" r="2.45" fill="#35a534" stroke="#1d6a1f" stroke-width="0.80"/>
<path d="M505.72 386.33h2.2M506.82 385.23v2.2" stroke="#0b4a10" stroke-width="0.7"/>
<line x1="397.98" y1="393.55" x2="422.70" y2="393.55" stroke="#333" stroke-width="1.0"/>
<rect x="409.60" y="392.85" width="1.4" height="1.4" fill="#222"/>
<circle cx="462.30" cy="393.80" r="2.45" fill="#35a534" stroke="#1d6a1f" stroke-width="0.80"/>
<path d="M461.20 393.80h2.2M462.30 392.70v2.2" stroke="#0b4a10" stroke-width="0.7"/>
<circle cx="469.72" cy="393.80" r="2.45" fill="#f5b92c" stroke="#c98a12" stroke-width="0.80"/>
<text x="469.72" y="395.15" font-size="3.8" text-anchor="middle" fill="#7a5000" font-family="Liberation Sans" font-weight="bold">?</text>
<circle cx="477.14" cy="393.80" r="2.45" fill="#35a534" stroke="#1d6a1f" stroke-width="0.80"/>
<path d="M476.04 393.80h2.2M477.14 392.70v2.2" stroke="#0b4a10" stroke-width="0.7"/>
<circle cx="484.56" cy="393.80" r="2.45" fill="#35a534" stroke="#1d6a1f" stroke-width="0.80"/>
<path d="M483.46 393.80h2.2M484.56 392.70v2.2" stroke="#0b4a10" stroke-width="0.7"/>
<circle cx="491.98" cy="393.80" r="2.45" fill="#35a534" stroke="#1d6a1f" stroke-width="0.80"/>
<path d="M490.88 393.80h2.2M491.98 392.70v2.2" stroke="#0b4a10" stroke-width="0.7"/>
<circle cx="499.40" cy="393.80" r="2.45" fill="#f5b92c" stroke="#c98a12" stroke-width="0.80"/>
<text x="499.40" y="395.15" font-size="3.8" text-anchor="middle" fill="#7a5000" font-family="Liberation Sans" font-weight="bold">?</text>
<circle cx="506.82" cy="393.80" r="2.45" fill="#35a534" stroke="#1d6a1f" stroke-width="0.80"/>
<path d="M505.72 393.80h2.2M506.82 392.70v2.2" stroke="#0b4a10" stroke-width="0.7"/>
<line x1="402.60" y1="401.02" x2="421.82" y2="401.02" stroke="#333" stroke-width="1.0"/>
<rect x="411.52" y="400.32" width="1.4" height="1.4" fill="#222"/>
<circle cx="462.30" cy="401.27" r="2.45" fill="#35a534" stroke="#1d6a1f" stroke-width="0.80"/>
<path d="M461.20 401.27h2.2M462.30 400.17v2.2" stroke="#0b4a10" stroke-width="0.7"/>
<circle cx="469.72" cy="401.27" r="2.45" fill="#f5b92c" stroke="#c98a12" stroke-width="0.80"/>
<text x="469.72" y="402.62" font-size="3.8" text-anchor="middle" fill="#7a5000" font-family="Liberation Sans" font-weight="bold">?</text>
<circle cx="477.14" cy="401.27" r="2.45" fill="#cc1530" stroke="#8a0a1e" stroke-width="0.80"/>
<path d="M476.04 401.27h2.2" stroke="#5a0008" stroke-width="0.7"/>
<circle cx="484.56" cy="401.27" r="2.45" fill="#35a534" stroke="#1d6a1f" stroke-width="0.80"/>
<path d="M483.46 401.27h2.2M484.56 400.17v2.2" stroke="#0b4a10" stroke-width="0.7"/>
<circle cx="491.98" cy="401.27" r="2.45" fill="#35a534" stroke="#1d6a1f" stroke-width="0.80"/>
<path d="M490.88 401.27h2.2M491.98 400.17v2.2" stroke="#0b4a10" stroke-width="0.7"/>
<circle cx="499.40" cy="401.27" r="2.45" fill="#cc1530" stroke="#8a0a1e" stroke-width="0.80"/>
<path d="M498.30 401.27h2.2" stroke="#5a0008" stroke-width="0.7"/>
<circle cx="506.82" cy="401.27" r="2.45" fill="#35a534" stroke="#1d6a1f" stroke-width="0.80"/>
<path d="M505.72 401.27h2.2M506.82 400.17v2.2" stroke="#0b4a10" stroke-width="0.7"/>
<line x1="395.84" y1="408.49" x2="413.74" y2="408.49" stroke="#333" stroke-width="1.0"/>
<rect x="404.09" y="407.79" width="1.4" height="1.4" fill="#222"/>
<circle cx="462.30" cy="408.74" r="2.45" fill="#35a534" stroke="#1d6a1f" stroke-width="0.80"/>
<path d="M461.20 408.74h2.2M462.30 407.64v2.2" stroke="#0b4a10" stroke-width="0.7"/>
<circle cx="469.72" cy="408.74" r="2.45" fill="#35a534" stroke="#1d6a1f" stroke-width="0.80"/>
<path d="M468.62 408.74h2.2M469.72 407.64v2.2" stroke="#0b4a10" stroke-width="0.7"/>
<circle cx="477.14" cy="408.74" r="2.45" fill="#35a534" stroke="#1d6a1f" stroke-width="0.80"/>
<path d="M476.04 408.74h2.2M477.14 407.64v2.2" stroke="#0b4a10" stroke-width="0.7"/>
<circle cx="484.56" cy="408.74" r="2.45" fill="#35a534" stroke="#1d6a1f" stroke-width="0.80"/>
<path d="M483.46 408.74h2.2M484.56 407.64v2.2" stroke="#0b4a10" stroke-width="0.7"/>
<circle cx="491.98" cy="408.74" r="2.45" fill="#35a534" stroke="#1d6a1f" stroke-width="0.80"/>
<path d="M490.88 408.74h2.2M491.98 407.64v2.2" stroke="#0b4a10" stroke-width="0.7"/>
<circle cx="499.40" cy="408.74" r="2.45" fill="#f5b92c" stroke="#c98a12" stroke-width="0.80"/>
<text x="499.40" y="410.09" font-size="3.8" text-anchor="middle" fill="#7a5000" font-family="Liberation Sans" font-weight="bold">?</text>
<circle cx="506.82" cy="408.74" r="2.45" fill="#35a534" stroke="#1d6a1f" stroke-width="0.80"/>
<path d="M505.72 408.74h2.2M506.82 407.64v2.2" stroke="#0b4a10" stroke-width="0.7"/>
<line x1="392.23" y1="415.96" x2="438.48" y2="415.96" stroke="#333" stroke-width="1.0"/>
<rect x="414.72" y="415.26" width="1.4" height="1.4" fill="#222"/>
<circle cx="462.30" cy="416.21" r="2.45" fill="#35a534" stroke="#1d6a1f" stroke-width="0.80"/>
<path d="M461.20 416.21h2.2M462.30 415.11v2.2" stroke="#0b4a10" stroke-width="0.7"/>
<circle cx="469.72" cy="416.21" r="2.45" fill="#35a534" stroke="#1d6a1f" stroke-width="0.80"/>
<path d="M468.62 416.21h2.2M469.72 415.11v2.2" stroke="#0b4a10" stroke-width="0.7"/>
<circle cx="477.14" cy="416.21" r="2.45" fill="#35a534" stroke="#1d6a1f" stroke-width="0.80"/>
<path d="M476.04 416.21h2.2M477.14 415.11v2.2" stroke="#0b4a10" stroke-width="0.7"/>
<circle cx="484.56" cy="416.21" r="2.45" fill="#35a534" stroke="#1d6a1f" stroke-width="0.80"/>
<path d="M483.46 416.21h2.2M484.56 415.11v2.2" stroke="#0b4a10" stroke-width="0.7"/>
<circle cx="491.98" cy="416.21" r="2.45" fill="#35a534" stroke="#1d6a1f" stroke-width="0.80"/>
<path d="M490.88 416.21h2.2M491.98 415.11v2.2" stroke="#0b4a10" stroke-width="0.7"/>
<circle cx="499.40" cy="416.21" r="2.45" fill="#35a534" stroke="#1d6a1f" stroke-width="0.80"/>
<path d="M498.30 416.21h2.2M499.40 415.11v2.2" stroke="#0b4a10" stroke-width="0.7"/>
<circle cx="506.82" cy="416.21" r="2.45" fill="#35a534" stroke="#1d6a1f" stroke-width="0.80"/>
<path d="M505.72 416.21h2.2M506.82 415.11v2.2" stroke="#0b4a10" stroke-width="0.7"/>
<path d="M404.66 423.58 L408.59 421.28 L412.47 423.58 L408.59 425.88Z" fill="#111"/>
<line x1="382.02" y1="468.25" x2="424.11" y2="468.25" stroke="#333" stroke-width="1.0"/>
<rect x="402.39" y="467.55" width="1.4" height="1.4" fill="#222"/>
<circle cx="462.30" cy="468.50" r="2.45" fill="#35a534" stroke="#1d6a1f" stroke-width="0.80"/>
<path d="M461.20 468.50h2.2M462.30 467.40v2.2" stroke="#0b4a10" stroke-width="0.7"/>
<circle cx="469.72" cy="468.50" r="2.45" fill="#35a534" stroke="#1d6a1f" stroke-width="0.80"/>
<path d="M468.62 468.50h2.2M469.72 467.40v2.2" stroke="#0b4a10" stroke-width="0.7"/>
<circle cx="477.14" cy="468.50" r="2.45" fill="#35a534" stroke="#1d6a1f" stroke-width="0.80"/>
<path d="M476.04 468.50h2.2M477.14 467.40v2.2" stroke="#0b4a10" stroke-width="0.7"/>
<circle cx="484.56" cy="468.50" r="2.45" fill="#35a534" stroke="#1d6a1f" stroke-width="0.80"/>
<path d="M483.46 468.50h2.2M484.56 467.40v2.2" stroke="#0b4a10" stroke-width="0.7"/>
<circle cx="491.98" cy="468.50" r="2.45" fill="#35a534" stroke="#1d6a1f" stroke-width="0.80"/>
<path d="M490.88 468.50h2.2M491.98 467.40v2.2" stroke="#0b4a10" stroke-width="0.7"/>
<circle cx="499.40" cy="468.50" r="2.45" fill="#35a534" stroke="#1d6a1f" stroke-width="0.80"/>
<path d="M498.30 468.50h2.2M499.40 467.40v2.2" stroke="#0b4a10" stroke-width="0.7"/>
<circle cx="506.82" cy="468.50" r="2.45" fill="#35a534" stroke="#1d6a1f" stroke-width="0.80"/>
<path d="M505.72 468.50h2.2M506.82 467.40v2.2" stroke="#0b4a10" stroke-width="0.7"/>
<line x1="397.66" y1="475.72" x2="413.57" y2="475.72" stroke="#333" stroke-width="1.0"/>
<rect x="404.87" y="475.02" width="1.4" height="1.4" fill="#222"/>
<circle cx="462.30" cy="475.97" r="2.45" fill="#35a534" stroke="#1d6a1f" stroke-width="0.80"/>
<path d="M461.20 475.97h2.2M462.30 474.87v2.2" stroke="#0b4a10" stroke-width="0.7"/>
<circle cx="469.72" cy="475.97" r="2.45" fill="#35a534" stroke="#1d6a1f" stroke-width="0.80"/>
<path d="M468.62 475.97h2.2M469.72 474.87v2.2" stroke="#0b4a10" stroke-width="0.7"/>
<circle cx="477.14" cy="475.97" r="2.45" fill="#35a534" stroke="#1d6a1f" stroke-width="0.80"/>
<path d="M476.04 475.97h2.2M477.14 474.87v2.2" stroke="#0b4a10" stroke-width="0.7"/>
<circle cx="484.56" cy="475.97" r="2.45" fill="#35a534" stroke="#1d6a1f" stroke-width="0.80"/>
<path d="M483.46 475.97h2.2M484.56 474.87v2.2" stroke="#0b4a10" stroke-width="0.7"/>
<circle cx="491.98" cy="475.97" r="2.45" fill="#35a534" stroke="#1d6a1f" stroke-width="0.80"/>
<path d="M490.88 475.97h2.2M491.98 474.87v2.2" stroke="#0b4a10" stroke-width="0.7"/>
<circle cx="499.40" cy="475.97" r="2.45" fill="#35a534" stroke="#1d6a1f" stroke-width="0.80"/>
<path d="M498.30 475.97h2.2M499.40 474.87v2.2" stroke="#0b4a10" stroke-width="0.7"/>
<circle cx="506.82" cy="475.97" r="2.45" fill="#35a534" stroke="#1d6a1f" stroke-width="0.80"/>
<path d="M505.72 475.97h2.2M506.82 474.87v2.2" stroke="#0b4a10" stroke-width="0.7"/>
<path d="M397.82 483.34 L405.28 481.04 L412.72 483.34 L405.28 485.64Z" fill="#111"/>
<path d="M404.40 520.69 L407.87 518.39 L411.33 520.69 L407.87 522.99Z" fill="#111"/></svg>
<div class="t" style="left:260.00px;width:0;display:flex;justify-content:center;top:6.38px;-webkit-text-stroke:0.06px currentColor;font-size:8.00px;color:#222;">Deep Vein Thrombosis</div>
<div class="t" style="left:78.70px;top:17.70px;font-weight:bold;-webkit-text-stroke:0.1px currentColor;font-size:6.20px;color:#000;">Indefinite antithrombotics</div>
<div class="t" style="left:166.30px;top:17.70px;font-weight:bold;-webkit-text-stroke:0.1px currentColor;font-size:6.20px;color:#000;">Defined antithrombotics</div>
<div class="t" style="left:297.50px;top:17.70px;font-weight:bold;-webkit-text-stroke:0.1px currentColor;font-size:6.20px;color:#000;">Risk Ratio</div>
<div class="t" style="left:388.20px;top:17.70px;font-weight:bold;-webkit-text-stroke:0.1px currentColor;font-size:6.20px;color:#000;">Risk Ratio</div>
<div class="t" style="left:467.20px;top:17.70px;font-weight:bold;-webkit-text-stroke:0.1px currentColor;font-size:6.20px;color:#000;">Risk of Bias</div>
<div class="t" style="left:6.50px;top:25.45px;font-weight:bold;-webkit-text-stroke:0.1px currentColor;font-size:6.20px;color:#000;">Study or Subgroup</div>
<div class="t" style="left:89.40px;top:25.45px;font-weight:bold;-webkit-text-stroke:0.1px currentColor;font-size:6.20px;color:#000;">Events</div>
<div class="t" style="left:131.40px;top:25.45px;font-weight:bold;-webkit-text-stroke:0.1px currentColor;font-size:6.20px;color:#000;">Total</div>
<div class="t" style="left:174.00px;top:25.45px;font-weight:bold;-webkit-text-stroke:0.1px currentColor;font-size:6.20px;color:#000;">Events</div>
<div class="t" style="left:216.30px;top:25.45px;font-weight:bold;-webkit-text-stroke:0.1px currentColor;font-size:6.20px;color:#000;">Total</div>
<div class="t" style="left:250.00px;top:25.45px;font-weight:bold;-webkit-text-stroke:0.1px currentColor;font-size:6.20px;color:#000;">Weight</div>
<div class="t" style="left:280.70px;top:25.45px;font-weight:bold;-webkit-text-stroke:0.1px currentColor;font-size:6.20px;color:#000;">M-H, Random, 95% CI</div>
<div class="t" style="left:370.90px;top:25.45px;font-weight:bold;-webkit-text-stroke:0.1px currentColor;font-size:6.20px;color:#000;">M-H, Random, 95% CI</div>
<div class="t" style="left:462.40px;width:0;display:flex;justify-content:center;top:25.45px;font-weight:bold;-webkit-text-stroke:0.1px currentColor;font-size:6.20px;color:#000;">A</div>
<div class="t" style="left:469.82px;width:0;display:flex;justify-content:center;top:25.45px;font-weight:bold;-webkit-text-stroke:0.1px currentColor;font-size:6.20px;color:#000;">B</div>
<div class="t" style="left:477.24px;width:0;display:flex;justify-content:center;top:25.45px;font-weight:bold;-webkit-text-stroke:0.1px currentColor;font-size:6.20px;color:#000;">C</div>
<div class="t" style="left:484.66px;width:0;display:flex;justify-content:center;top:25.45px;font-weight:bold;-webkit-text-stroke:0.1px currentColor;font-size:6.20px;color:#000;">D</div>
<div class="t" style="left:492.08px;width:0;display:flex;justify-content:center;top:25.45px;font-weight:bold;-webkit-text-stroke:0.1px currentColor;font-size:6.20px;color:#000;">E</div>
<div class="t" style="left:499.50px;width:0;display:flex;justify-content:center;top:25.45px;font-weight:bold;-webkit-text-stroke:0.1px currentColor;font-size:6.20px;color:#000;">F</div>
<div class="t" style="left:506.92px;width:0;display:flex;justify-content:center;top:25.45px;font-weight:bold;-webkit-text-stroke:0.1px currentColor;font-size:6.20px;color:#000;">G</div>
<div class="t" style="left:6.50px;top:37.70px;font-weight:bold;-webkit-text-stroke:0.1px currentColor;font-size:6.20px;color:#000;">3.3.1 Anticoagulation</div>
<div class="t" style="left:6.50px;top:45.17px;-webkit-text-stroke:0.06px currentColor;font-size:6.20px;color:#1a1a1a;">Agnelli 2013*</div>
<div class="t" style="right:417.40px;top:45.17px;-webkit-text-stroke:0.06px currentColor;font-size:6.20px;color:#1a1a1a;">14</div>
<div class="t" style="right:376.10px;top:45.17px;-webkit-text-stroke:0.06px currentColor;font-size:6.20px;color:#1a1a1a;">1653</div>
<div class="t" style="right:327.30px;top:45.17px;-webkit-text-stroke:0.06px currentColor;font-size:6.20px;color:#1a1a1a;">53</div>
<div class="t" style="right:291.00px;top:45.17px;-webkit-text-stroke:0.06px currentColor;font-size:6.20px;color:#1a1a1a;">829</div>
<div class="t" style="right:249.40px;top:45.17px;-webkit-text-stroke:0.06px currentColor;font-size:6.20px;color:#1a1a1a;">12.1%</div>
<div class="t" style="right:184.70px;top:45.17px;-webkit-text-stroke:0.06px currentColor;font-size:6.20px;color:#1a1a1a;">0.13 [0.07, 0.24]</div>
<div class="t" style="left:6.50px;top:52.64px;-webkit-text-stroke:0.06px currentColor;font-size:6.20px;color:#1a1a1a;">Couturaud 2015</div>
<div class="t" style="right:417.40px;top:52.64px;-webkit-text-stroke:0.06px currentColor;font-size:6.20px;color:#1a1a1a;">1</div>
<div class="t" style="right:376.10px;top:52.64px;-webkit-text-stroke:0.06px currentColor;font-size:6.20px;color:#1a1a1a;">184</div>
<div class="t" style="right:327.30px;top:52.64px;-webkit-text-stroke:0.06px currentColor;font-size:6.20px;color:#1a1a1a;">4</div>
<div class="t" style="right:291.00px;top:52.64px;-webkit-text-stroke:0.06px currentColor;font-size:6.20px;color:#1a1a1a;">187</div>
<div class="t" style="right:249.40px;top:52.64px;-webkit-text-stroke:0.06px currentColor;font-size:6.20px;color:#1a1a1a;">5.4%</div>
<div class="t" style="right:184.70px;top:52.64px;-webkit-text-stroke:0.06px currentColor;font-size:6.20px;color:#1a1a1a;">0.25 [0.03, 2.25]</div>
<div class="t" style="left:6.50px;top:60.11px;-webkit-text-stroke:0.06px currentColor;font-size:6.20px;color:#1a1a1a;">Couturaud 2019</div>
<div class="t" style="right:417.40px;top:60.11px;-webkit-text-stroke:0.06px currentColor;font-size:6.20px;color:#1a1a1a;">0</div>
<div class="t" style="right:376.10px;top:60.11px;-webkit-text-stroke:0.06px currentColor;font-size:6.20px;color:#1a1a1a;">50</div>
<div class="t" style="right:327.30px;top:60.11px;-webkit-text-stroke:0.06px currentColor;font-size:6.20px;color:#1a1a1a;">13</div>
<div class="t" style="right:291.00px;top:60.11px;-webkit-text-stroke:0.06px currentColor;font-size:6.20px;color:#1a1a1a;">54</div>
<div class="t" style="right:249.40px;top:60.11px;-webkit-text-stroke:0.06px currentColor;font-size:6.20px;color:#1a1a1a;">3.9%</div>
<div class="t" style="right:184.70px;top:60.11px;-webkit-text-stroke:0.06px currentColor;font-size:6.20px;color:#1a1a1a;">0.04 [0.00, 0.65]</div>
<div class="t" style="left:6.50px;top:67.58px;-webkit-text-stroke:0.06px currentColor;font-size:6.20px;color:#1a1a1a;">EINSTEIN 2010*</div>
<div class="t" style="right:417.40px;top:67.58px;-webkit-text-stroke:0.06px currentColor;font-size:6.20px;color:#1a1a1a;">5</div>
<div class="t" style="right:376.10px;top:67.58px;-webkit-text-stroke:0.06px currentColor;font-size:6.20px;color:#1a1a1a;">602</div>
<div class="t" style="right:327.30px;top:67.58px;-webkit-text-stroke:0.06px currentColor;font-size:6.20px;color:#1a1a1a;">31</div>
<div class="t" style="right:291.00px;top:67.58px;-webkit-text-stroke:0.06px currentColor;font-size:6.20px;color:#1a1a1a;">594</div>
<div class="t" style="right:249.40px;top:67.58px;-webkit-text-stroke:0.06px currentColor;font-size:6.20px;color:#1a1a1a;">10.5%</div>
<div class="t" style="right:184.70px;top:67.58px;-webkit-text-stroke:0.06px currentColor;font-size:6.20px;color:#1a1a1a;">0.16 [0.06, 0.41]</div>
<div class="t" style="left:6.50px;top:75.05px;-webkit-text-stroke:0.06px currentColor;font-size:6.20px;color:#1a1a1a;">Eischer 2009</div>
<div class="t" style="right:417.40px;top:75.05px;-webkit-text-stroke:0.06px currentColor;font-size:6.20px;color:#1a1a1a;">0</div>
<div class="t" style="right:376.10px;top:75.05px;-webkit-text-stroke:0.06px currentColor;font-size:6.20px;color:#1a1a1a;">17</div>
<div class="t" style="right:327.30px;top:75.05px;-webkit-text-stroke:0.06px currentColor;font-size:6.20px;color:#1a1a1a;">0</div>
<div class="t" style="right:291.00px;top:75.05px;-webkit-text-stroke:0.06px currentColor;font-size:6.20px;color:#1a1a1a;">17</div>
<div class="t" style="right:184.70px;top:75.05px;-webkit-text-stroke:0.06px currentColor;font-size:6.20px;color:#1a1a1a;">Not estimable</div>
<div class="t" style="left:6.50px;top:82.52px;-webkit-text-stroke:0.06px currentColor;font-size:6.20px;color:#1a1a1a;">Farraj 2004</div>
<div class="t" style="right:417.40px;top:82.52px;-webkit-text-stroke:0.06px currentColor;font-size:6.20px;color:#1a1a1a;">0</div>
<div class="t" style="right:376.10px;top:82.52px;-webkit-text-stroke:0.06px currentColor;font-size:6.20px;color:#1a1a1a;">32</div>
<div class="t" style="right:327.30px;top:82.52px;-webkit-text-stroke:0.06px currentColor;font-size:6.20px;color:#1a1a1a;">5</div>
<div class="t" style="right:291.00px;top:82.52px;-webkit-text-stroke:0.06px currentColor;font-size:6.20px;color:#1a1a1a;">32</div>
<div class="t" style="right:249.40px;top:82.52px;-webkit-text-stroke:0.06px currentColor;font-size:6.20px;color:#1a1a1a;">3.8%</div>
<div class="t" style="right:184.70px;top:82.52px;-webkit-text-stroke:0.06px currentColor;font-size:6.20px;color:#1a1a1a;">0.09 [0.01, 1.58]</div>
<div class="t" style="left:6.50px;top:89.99px;-webkit-text-stroke:0.06px currentColor;font-size:6.20px;color:#1a1a1a;">Kearon 1999</div>
<div class="t" style="right:417.40px;top:89.99px;-webkit-text-stroke:0.06px currentColor;font-size:6.20px;color:#1a1a1a;">0</div>
<div class="t" style="right:376.10px;top:89.99px;-webkit-text-stroke:0.06px currentColor;font-size:6.20px;color:#1a1a1a;">79</div>
<div class="t" style="right:327.30px;top:89.99px;-webkit-text-stroke:0.06px currentColor;font-size:6.20px;color:#1a1a1a;">11</div>
<div class="t" style="right:291.00px;top:89.99px;-webkit-text-stroke:0.06px currentColor;font-size:6.20px;color:#1a1a1a;">83</div>
<div class="t" style="right:249.40px;top:89.99px;-webkit-text-stroke:0.06px currentColor;font-size:6.20px;color:#1a1a1a;">3.9%</div>
<div class="t" style="right:184.70px;top:89.99px;-webkit-text-stroke:0.06px currentColor;font-size:6.20px;color:#1a1a1a;">0.05 [0.00, 0.76]</div>
<div class="t" style="left:6.50px;top:97.46px;-webkit-text-stroke:0.06px currentColor;font-size:6.20px;color:#1a1a1a;">Palareti 2006</div>
<div class="t" style="right:417.40px;top:97.46px;-webkit-text-stroke:0.06px currentColor;font-size:6.20px;color:#1a1a1a;">1</div>
<div class="t" style="right:376.10px;top:97.46px;-webkit-text-stroke:0.06px currentColor;font-size:6.20px;color:#1a1a1a;">103</div>
<div class="t" style="right:327.30px;top:97.46px;-webkit-text-stroke:0.06px currentColor;font-size:6.20px;color:#1a1a1a;">11</div>
<div class="t" style="right:291.00px;top:97.46px;-webkit-text-stroke:0.06px currentColor;font-size:6.20px;color:#1a1a1a;">120</div>
<div class="t" style="right:249.40px;top:97.46px;-webkit-text-stroke:0.06px currentColor;font-size:6.20px;color:#1a1a1a;">5.9%</div>
<div class="t" style="right:184.70px;top:97.46px;-webkit-text-stroke:0.06px currentColor;font-size:6.20px;color:#1a1a1a;">0.11 [0.01, 0.81]</div>
<div class="t" style="left:6.50px;top:104.93px;-webkit-text-stroke:0.06px currentColor;font-size:6.20px;color:#1a1a1a;">Schulman 2003*</div>
<div class="t" style="right:417.40px;top:104.93px;-webkit-text-stroke:0.06px currentColor;font-size:6.20px;color:#1a1a1a;">10</div>
<div class="t" style="right:376.10px;top:104.93px;-webkit-text-stroke:0.06px currentColor;font-size:6.20px;color:#1a1a1a;">612</div>
<div class="t" style="right:327.30px;top:104.93px;-webkit-text-stroke:0.06px currentColor;font-size:6.20px;color:#1a1a1a;">48</div>
<div class="t" style="right:291.00px;top:104.93px;-webkit-text-stroke:0.06px currentColor;font-size:6.20px;color:#1a1a1a;">611</div>
<div class="t" style="right:249.40px;top:104.93px;-webkit-text-stroke:0.06px currentColor;font-size:6.20px;color:#1a1a1a;">11.8%</div>
<div class="t" style="right:184.70px;top:104.93px;-webkit-text-stroke:0.06px currentColor;font-size:6.20px;color:#1a1a1a;">0.21 [0.11, 0.41]</div>
<div class="t" style="left:6.50px;top:112.40px;-webkit-text-stroke:0.06px currentColor;font-size:6.20px;color:#1a1a1a;">Schulman 2013*</div>
<div class="t" style="right:417.40px;top:112.40px;-webkit-text-stroke:0.06px currentColor;font-size:6.20px;color:#1a1a1a;">2</div>
<div class="t" style="right:376.10px;top:112.40px;-webkit-text-stroke:0.06px currentColor;font-size:6.20px;color:#1a1a1a;">681</div>
<div class="t" style="right:327.30px;top:112.40px;-webkit-text-stroke:0.06px currentColor;font-size:6.20px;color:#1a1a1a;">22</div>
<div class="t" style="right:291.00px;top:112.40px;-webkit-text-stroke:0.06px currentColor;font-size:6.20px;color:#1a1a1a;">662</div>
<div class="t" style="right:249.40px;top:112.40px;-webkit-text-stroke:0.06px currentColor;font-size:6.20px;color:#1a1a1a;">8.1%</div>
<div class="t" style="right:184.70px;top:112.40px;-webkit-text-stroke:0.06px currentColor;font-size:6.20px;color:#1a1a1a;">0.09 [0.02, 0.37]</div>
<div class="t" style="left:6.50px;top:119.87px;font-weight:bold;-webkit-text-stroke:0.1px currentColor;font-size:6.20px;color:#000;">Subtotal (95% CI)</div>
<div class="t" style="right:376.10px;top:119.87px;font-weight:bold;-webkit-text-stroke:0.1px currentColor;font-size:6.20px;color:#000;">4013</div>
<div class="t" style="right:291.00px;top:119.87px;font-weight:bold;-webkit-text-stroke:0.1px currentColor;font-size:6.20px;color:#000;">3189</div>
<div class="t" style="right:249.40px;top:119.87px;font-weight:bold;-webkit-text-stroke:0.1px currentColor;font-size:6.20px;color:#000;">65.5%</div>
<div class="t" style="right:184.70px;top:119.87px;font-weight:bold;-webkit-text-stroke:0.1px currentColor;font-size:6.20px;color:#000;">0.15 [0.10, 0.21]</div>
<div class="t" style="left:6.50px;top:127.34px;-webkit-text-stroke:0.06px currentColor;font-size:6.20px;color:#1a1a1a;">Total events</div>
<div class="t" style="right:417.40px;top:127.34px;-webkit-text-stroke:0.06px currentColor;font-size:6.20px;color:#1a1a1a;">33</div>
<div class="t" style="right:327.30px;top:127.34px;-webkit-text-stroke:0.06px currentColor;font-size:6.20px;color:#1a1a1a;">198</div>
<div class="t" style="left:6.50px;top:134.81px;-webkit-text-stroke:0.06px currentColor;font-size:6.20px;color:#1a1a1a;">Heterogeneity: Tau<sup>2</sup> = 0.00; Chi<sup>2</sup> = 3.69, df = 8 (<i>P</i> = .88); I<sup>2</sup> = 0%</div>
<div class="t" style="left:6.50px;top:142.28px;-webkit-text-stroke:0.06px currentColor;font-size:6.20px;color:#1a1a1a;">Test for overall effect: Z = 10.38 (<i>P</i> &lt; .00001)</div>
<div class="t" style="left:6.50px;top:157.22px;font-weight:bold;-webkit-text-stroke:0.1px currentColor;font-size:6.20px;color:#000;">3.3.2 Antiplatelet</div>
<div class="t" style="left:6.50px;top:164.69px;-webkit-text-stroke:0.06px currentColor;font-size:6.20px;color:#1a1a1a;">Becattini 2012</div>
<div class="t" style="right:417.40px;top:164.69px;-webkit-text-stroke:0.06px currentColor;font-size:6.20px;color:#1a1a1a;">16</div>
<div class="t" style="right:376.10px;top:164.69px;-webkit-text-stroke:0.06px currentColor;font-size:6.20px;color:#1a1a1a;">205</div>
<div class="t" style="right:327.30px;top:164.69px;-webkit-text-stroke:0.06px currentColor;font-size:6.20px;color:#1a1a1a;">28</div>
<div class="t" style="right:291.00px;top:164.69px;-webkit-text-stroke:0.06px currentColor;font-size:6.20px;color:#1a1a1a;">197</div>
<div class="t" style="right:249.40px;top:164.69px;-webkit-text-stroke:0.06px currentColor;font-size:6.20px;color:#1a1a1a;">12.2%</div>
<div class="t" style="right:184.70px;top:164.69px;-webkit-text-stroke:0.06px currentColor;font-size:6.20px;color:#1a1a1a;">0.55 [0.31, 0.98]</div>
<div class="t" style="left:6.50px;top:172.16px;-webkit-text-stroke:0.06px currentColor;font-size:6.20px;color:#1a1a1a;">Belcaro 1993</div>
<div class="t" style="right:417.40px;top:172.16px;-webkit-text-stroke:0.06px currentColor;font-size:6.20px;color:#1a1a1a;">3</div>
<div class="t" style="right:376.10px;top:172.16px;-webkit-text-stroke:0.06px currentColor;font-size:6.20px;color:#1a1a1a;">60</div>
<div class="t" style="right:327.30px;top:172.16px;-webkit-text-stroke:0.06px currentColor;font-size:6.20px;color:#1a1a1a;">29</div>
<div class="t" style="right:291.00px;top:172.16px;-webkit-text-stroke:0.06px currentColor;font-size:6.20px;color:#1a1a1a;">63</div>
<div class="t" style="right:249.40px;top:172.16px;-webkit-text-stroke:0.06px currentColor;font-size:6.20px;color:#1a1a1a;">9.6%</div>
<div class="t" style="right:184.70px;top:172.16px;-webkit-text-stroke:0.06px currentColor;font-size:6.20px;color:#1a1a1a;">0.11 [0.03, 0.34]</div>
<div class="t" style="left:6.50px;top:179.63px;-webkit-text-stroke:0.06px currentColor;font-size:6.20px;color:#1a1a1a;">Brighton 2012</div>
<div class="t" style="right:417.40px;top:179.63px;-webkit-text-stroke:0.06px currentColor;font-size:6.20px;color:#1a1a1a;">39</div>
<div class="t" style="right:376.10px;top:179.63px;-webkit-text-stroke:0.06px currentColor;font-size:6.20px;color:#1a1a1a;">411</div>
<div class="t" style="right:327.30px;top:179.63px;-webkit-text-stroke:0.06px currentColor;font-size:6.20px;color:#1a1a1a;">43</div>
<div class="t" style="right:291.00px;top:179.63px;-webkit-text-stroke:0.06px currentColor;font-size:6.20px;color:#1a1a1a;">411</div>
<div class="t" style="right:249.40px;top:179.63px;-webkit-text-stroke:0.06px currentColor;font-size:6.20px;color:#1a1a1a;">12.8%</div>
<div class="t" style="right:184.70px;top:179.63px;-webkit-text-stroke:0.06px currentColor;font-size:6.20px;color:#1a1a1a;">0.91 [0.60, 1.37]</div>
<div class="t" style="left:6.50px;top:187.10px;font-weight:bold;-webkit-text-stroke:0.1px currentColor;font-size:6.20px;color:#000;">Subtotal (95% CI)</div>
<div class="t" style="right:376.10px;top:187.10px;font-weight:bold;-webkit-text-stroke:0.1px currentColor;font-size:6.20px;color:#000;">676</div>
<div class="t" style="right:291.00px;top:187.10px;font-weight:bold;-webkit-text-stroke:0.1px currentColor;font-size:6.20px;color:#000;">671</div>
<div class="t" style="right:249.40px;top:187.10px;font-weight:bold;-webkit-text-stroke:0.1px currentColor;font-size:6.20px;color:#000;">34.5%</div>
<div class="t" style="right:184.70px;top:187.10px;font-weight:bold;-webkit-text-stroke:0.1px currentColor;font-size:6.20px;color:#000;">0.44 [0.17, 1.13]</div>
<div class="t" style="left:6.50px;top:194.57px;-webkit-text-stroke:0.06px currentColor;font-size:6.20px;color:#1a1a1a;">Total events</div>
<div class="t" style="right:417.40px;top:194.57px;-webkit-text-stroke:0.06px currentColor;font-size:6.20px;color:#1a1a1a;">58</div>
<div class="t" style="right:327.30px;top:194.57px;-webkit-text-stroke:0.06px currentColor;font-size:6.20px;color:#1a1a1a;">100</div>
<div class="t" style="left:6.50px;top:202.04px;-webkit-text-stroke:0.06px currentColor;font-size:6.20px;color:#1a1a1a;">Heterogeneity: Tau<sup>2</sup> = 0.57; Chi<sup>2</sup> = 12.97, df = 2 (<i>P</i> = .002); I<sup>2</sup> = 85%</div>
<div class="t" style="left:6.50px;top:209.51px;-webkit-text-stroke:0.06px currentColor;font-size:6.20px;color:#1a1a1a;">Test for overall effect: Z = 1.71 (<i>P</i> = .09)</div>
<div class="t" style="left:6.50px;top:224.45px;font-weight:bold;-webkit-text-stroke:0.1px currentColor;font-size:6.20px;color:#000;">Total (95% CI)</div>
<div class="t" style="right:376.10px;top:224.45px;font-weight:bold;-webkit-text-stroke:0.1px currentColor;font-size:6.20px;color:#000;">4689</div>
<div class="t" style="right:291.00px;top:224.45px;font-weight:bold;-webkit-text-stroke:0.1px currentColor;font-size:6.20px;color:#000;">3860</div>
<div class="t" style="right:249.40px;top:224.45px;font-weight:bold;-webkit-text-stroke:0.1px currentColor;font-size:6.20px;color:#000;">100.0%</div>
<div class="t" style="right:184.70px;top:224.45px;font-weight:bold;-webkit-text-stroke:0.1px currentColor;font-size:6.20px;color:#000;">0.19 [0.10, 0.37]</div>
<div class="t" style="left:6.50px;top:231.92px;-webkit-text-stroke:0.06px currentColor;font-size:6.20px;color:#1a1a1a;">Total events</div>
<div class="t" style="right:417.40px;top:231.92px;-webkit-text-stroke:0.06px currentColor;font-size:6.20px;color:#1a1a1a;">91</div>
<div class="t" style="right:327.30px;top:231.92px;-webkit-text-stroke:0.06px currentColor;font-size:6.20px;color:#1a1a1a;">298</div>
<div class="t" style="left:6.50px;top:239.39px;-webkit-text-stroke:0.06px currentColor;font-size:6.20px;color:#1a1a1a;">Heterogeneity: Tau<sup>2</sup> = 0.84; Chi<sup>2</sup> = 55.29, df = 11 (<i>P</i> &lt; .00001); I<sup>2</sup> = 80%</div>
<div class="t" style="left:6.50px;top:246.86px;-webkit-text-stroke:0.06px currentColor;font-size:6.20px;color:#1a1a1a;">Test for overall effect: Z = 4.96 (<i>P</i> &lt; .00001)</div>
<div class="t" style="left:6.50px;top:254.33px;-webkit-text-stroke:0.06px currentColor;font-size:6.20px;color:#1a1a1a;">Test for subgroup differences: Chi<sup>2</sup> = 4.48, df = 1 (<i>P</i> = .03), I<sup>2</sup> = 77.6%</div>
<div class="t" style="left:360.63px;width:0;display:flex;justify-content:center;top:243.50px;-webkit-text-stroke:0.06px currentColor;font-size:6.20px;color:#1a1a1a;">0.005</div>
<div class="t" style="left:386.00px;width:0;display:flex;justify-content:center;top:243.50px;-webkit-text-stroke:0.06px currentColor;font-size:6.20px;color:#1a1a1a;">0.1</div>
<div class="t" style="left:405.50px;width:0;display:flex;justify-content:center;top:243.50px;-webkit-text-stroke:0.06px currentColor;font-size:6.20px;color:#1a1a1a;">1</div>
<div class="t" style="left:425.00px;width:0;display:flex;justify-content:center;top:243.50px;-webkit-text-stroke:0.06px currentColor;font-size:6.20px;color:#1a1a1a;">10</div>
<div class="t" style="left:450.37px;width:0;display:flex;justify-content:center;top:243.50px;-webkit-text-stroke:0.06px currentColor;font-size:6.20px;color:#1a1a1a;">200</div>
<div class="t" style="left:380.00px;width:0;display:flex;justify-content:center;top:253.02px;-webkit-text-stroke:0.06px currentColor;font-size:5.85px;color:#1a1a1a;">Favours lower</div>
<div class="t" style="left:379.80px;width:0;display:flex;justify-content:center;top:260.32px;-webkit-text-stroke:0.06px currentColor;font-size:5.85px;color:#1a1a1a;">dose</div>
<div class="t" style="left:427.00px;width:0;display:flex;justify-content:center;top:253.02px;-webkit-text-stroke:0.06px currentColor;font-size:5.85px;color:#1a1a1a;">Favours standard</div>
<div class="t" style="left:426.70px;width:0;display:flex;justify-content:center;top:260.32px;-webkit-text-stroke:0.06px currentColor;font-size:5.85px;color:#1a1a1a;">dose</div>
<div class="t" style="left:260.00px;width:0;display:flex;justify-content:center;top:283.78px;-webkit-text-stroke:0.06px currentColor;font-size:8.00px;color:#222;">Major Bleeding</div>
<div class="t" style="left:78.70px;top:294.60px;font-weight:bold;-webkit-text-stroke:0.1px currentColor;font-size:6.20px;color:#000;">Indefinite antithrombotics</div>
<div class="t" style="left:166.30px;top:294.60px;font-weight:bold;-webkit-text-stroke:0.1px currentColor;font-size:6.20px;color:#000;">Defined antithrombotics</div>
<div class="t" style="left:297.50px;top:294.60px;font-weight:bold;-webkit-text-stroke:0.1px currentColor;font-size:6.20px;color:#000;">Risk Ratio</div>
<div class="t" style="left:388.20px;top:294.60px;font-weight:bold;-webkit-text-stroke:0.1px currentColor;font-size:6.20px;color:#000;">Risk Ratio</div>
<div class="t" style="left:467.20px;top:294.60px;font-weight:bold;-webkit-text-stroke:0.1px currentColor;font-size:6.20px;color:#000;">Risk of Bias</div>
<div class="t" style="left:6.50px;top:302.35px;font-weight:bold;-webkit-text-stroke:0.1px currentColor;font-size:6.20px;color:#000;">Study or Subgroup</div>
<div class="t" style="left:89.40px;top:302.35px;font-weight:bold;-webkit-text-stroke:0.1px currentColor;font-size:6.20px;color:#000;">Events</div>
<div class="t" style="left:131.40px;top:302.35px;font-weight:bold;-webkit-text-stroke:0.1px currentColor;font-size:6.20px;color:#000;">Total</div>
<div class="t" style="left:174.00px;top:302.35px;font-weight:bold;-webkit-text-stroke:0.1px currentColor;font-size:6.20px;color:#000;">Events</div>
<div class="t" style="left:216.30px;top:302.35px;font-weight:bold;-webkit-text-stroke:0.1px currentColor;font-size:6.20px;color:#000;">Total</div>
<div class="t" style="left:250.00px;top:302.35px;font-weight:bold;-webkit-text-stroke:0.1px currentColor;font-size:6.20px;color:#000;">Weight</div>
<div class="t" style="left:280.70px;top:302.35px;font-weight:bold;-webkit-text-stroke:0.1px currentColor;font-size:6.20px;color:#000;">M-H, Random, 95% CI</div>
<div class="t" style="left:370.90px;top:302.35px;font-weight:bold;-webkit-text-stroke:0.1px currentColor;font-size:6.20px;color:#000;">M-H, Random, 95% CI</div>
<div class="t" style="left:462.40px;width:0;display:flex;justify-content:center;top:302.35px;font-weight:bold;-webkit-text-stroke:0.1px currentColor;font-size:6.20px;color:#000;">A</div>
<div class="t" style="left:469.82px;width:0;display:flex;justify-content:center;top:302.35px;font-weight:bold;-webkit-text-stroke:0.1px currentColor;font-size:6.20px;color:#000;">B</div>
<div class="t" style="left:477.24px;width:0;display:flex;justify-content:center;top:302.35px;font-weight:bold;-webkit-text-stroke:0.1px currentColor;font-size:6.20px;color:#000;">C</div>
<div class="t" style="left:484.66px;width:0;display:flex;justify-content:center;top:302.35px;font-weight:bold;-webkit-text-stroke:0.1px currentColor;font-size:6.20px;color:#000;">D</div>
<div class="t" style="left:492.08px;width:0;display:flex;justify-content:center;top:302.35px;font-weight:bold;-webkit-text-stroke:0.1px currentColor;font-size:6.20px;color:#000;">E</div>
<div class="t" style="left:499.50px;width:0;display:flex;justify-content:center;top:302.35px;font-weight:bold;-webkit-text-stroke:0.1px currentColor;font-size:6.20px;color:#000;">F</div>
<div class="t" style="left:506.92px;width:0;display:flex;justify-content:center;top:302.35px;font-weight:bold;-webkit-text-stroke:0.1px currentColor;font-size:6.20px;color:#000;">G</div>
<div class="t" style="left:6.50px;top:314.60px;font-weight:bold;-webkit-text-stroke:0.1px currentColor;font-size:6.20px;color:#000;">3.4.1 Anticoagulation</div>
<div class="t" style="left:6.50px;top:322.07px;-webkit-text-stroke:0.06px currentColor;font-size:6.20px;color:#1a1a1a;">Agnelli 2013*</div>
<div class="t" style="right:417.40px;top:322.07px;-webkit-text-stroke:0.06px currentColor;font-size:6.20px;color:#1a1a1a;">3</div>
<div class="t" style="right:376.10px;top:322.07px;-webkit-text-stroke:0.06px currentColor;font-size:6.20px;color:#1a1a1a;">1653</div>
<div class="t" style="right:332.60px;top:322.07px;-webkit-text-stroke:0.06px currentColor;font-size:6.20px;color:#1a1a1a;">4</div>
<div class="t" style="right:291.00px;top:322.07px;-webkit-text-stroke:0.06px currentColor;font-size:6.20px;color:#1a1a1a;">829</div>
<div class="t" style="left:259.10px;width:0;display:flex;justify-content:center;top:322.07px;-webkit-text-stroke:0.06px currentColor;font-size:6.20px;color:#1a1a1a;">9.3%</div>
<div class="t" style="right:180.80px;top:322.07px;-webkit-text-stroke:0.06px currentColor;font-size:6.20px;color:#1a1a1a;">0.38 [0.08, 1.68]</div>
<div class="t" style="left:6.50px;top:329.54px;-webkit-text-stroke:0.06px currentColor;font-size:6.20px;color:#1a1a1a;">Bradbury 2020</div>
<div class="t" style="right:417.40px;top:329.54px;-webkit-text-stroke:0.06px currentColor;font-size:6.20px;color:#1a1a1a;">9</div>
<div class="t" style="right:376.10px;top:329.54px;-webkit-text-stroke:0.06px currentColor;font-size:6.20px;color:#1a1a1a;">139</div>
<div class="t" style="right:332.60px;top:329.54px;-webkit-text-stroke:0.06px currentColor;font-size:6.20px;color:#1a1a1a;">3</div>
<div class="t" style="right:291.00px;top:329.54px;-webkit-text-stroke:0.06px currentColor;font-size:6.20px;color:#1a1a1a;">134</div>
<div class="t" style="left:259.10px;width:0;display:flex;justify-content:center;top:329.54px;-webkit-text-stroke:0.06px currentColor;font-size:6.20px;color:#1a1a1a;">12.5%</div>
<div class="t" style="right:180.80px;top:329.54px;-webkit-text-stroke:0.06px currentColor;font-size:6.20px;color:#1a1a1a;">2.89 [0.80, 10.45]</div>
<div class="t" style="left:6.50px;top:337.01px;-webkit-text-stroke:0.06px currentColor;font-size:6.20px;color:#1a1a1a;">Couturaud 2015</div>
<div class="t" style="right:417.40px;top:337.01px;-webkit-text-stroke:0.06px currentColor;font-size:6.20px;color:#1a1a1a;">4</div>
<div class="t" style="right:376.10px;top:337.01px;-webkit-text-stroke:0.06px currentColor;font-size:6.20px;color:#1a1a1a;">184</div>
<div class="t" style="right:332.60px;top:337.01px;-webkit-text-stroke:0.06px currentColor;font-size:6.20px;color:#1a1a1a;">1</div>
<div class="t" style="right:291.00px;top:337.01px;-webkit-text-stroke:0.06px currentColor;font-size:6.20px;color:#1a1a1a;">187</div>
<div class="t" style="left:259.10px;width:0;display:flex;justify-content:center;top:337.01px;-webkit-text-stroke:0.06px currentColor;font-size:6.20px;color:#1a1a1a;">4.3%</div>
<div class="t" style="right:180.80px;top:337.01px;-webkit-text-stroke:0.06px currentColor;font-size:6.20px;color:#1a1a1a;">4.07 [0.46, 36.03]</div>
<div class="t" style="left:6.50px;top:344.48px;-webkit-text-stroke:0.06px currentColor;font-size:6.20px;color:#1a1a1a;">Couturaud 2019</div>
<div class="t" style="right:417.40px;top:344.48px;-webkit-text-stroke:0.06px currentColor;font-size:6.20px;color:#1a1a1a;">0</div>
<div class="t" style="right:376.10px;top:344.48px;-webkit-text-stroke:0.06px currentColor;font-size:6.20px;color:#1a1a1a;">50</div>
<div class="t" style="right:332.60px;top:344.48px;-webkit-text-stroke:0.06px currentColor;font-size:6.20px;color:#1a1a1a;">0</div>
<div class="t" style="right:291.00px;top:344.48px;-webkit-text-stroke:0.06px currentColor;font-size:6.20px;color:#1a1a1a;">54</div>
<div class="t" style="right:180.80px;top:344.48px;-webkit-text-stroke:0.06px currentColor;font-size:6.20px;color:#1a1a1a;">Not estimable</div>
<div class="t" style="left:6.50px;top:351.95px;-webkit-text-stroke:0.06px currentColor;font-size:6.20px;color:#1a1a1a;">EINSTEIN 2010*</div>
<div class="t" style="right:417.40px;top:351.95px;-webkit-text-stroke:0.06px currentColor;font-size:6.20px;color:#1a1a1a;">4</div>
<div class="t" style="right:376.10px;top:351.95px;-webkit-text-stroke:0.06px currentColor;font-size:6.20px;color:#1a1a1a;">602</div>
<div class="t" style="right:332.60px;top:351.95px;-webkit-text-stroke:0.06px currentColor;font-size:6.20px;color:#1a1a1a;">0</div>
<div class="t" style="right:291.00px;top:351.95px;-webkit-text-stroke:0.06px currentColor;font-size:6.20px;color:#1a1a1a;">594</div>
<div class="t" style="left:259.10px;width:0;display:flex;justify-content:center;top:351.95px;-webkit-text-stroke:0.06px currentColor;font-size:6.20px;color:#1a1a1a;">2.4%</div>
<div class="t" style="right:180.80px;top:351.95px;-webkit-text-stroke:0.06px currentColor;font-size:6.20px;color:#1a1a1a;">8.88 [0.48, 164.58]</div>
<div class="t" style="left:6.50px;top:359.42px;-webkit-text-stroke:0.06px currentColor;font-size:6.20px;color:#1a1a1a;">Eischer 2009</div>
<div class="t" style="right:417.40px;top:359.42px;-webkit-text-stroke:0.06px currentColor;font-size:6.20px;color:#1a1a1a;">1</div>
<div class="t" style="right:376.10px;top:359.42px;-webkit-text-stroke:0.06px currentColor;font-size:6.20px;color:#1a1a1a;">17</div>
<div class="t" style="right:332.60px;top:359.42px;-webkit-text-stroke:0.06px currentColor;font-size:6.20px;color:#1a1a1a;">0</div>
<div class="t" style="right:291.00px;top:359.42px;-webkit-text-stroke:0.06px currentColor;font-size:6.20px;color:#1a1a1a;">17</div>
<div class="t" style="left:259.10px;width:0;display:flex;justify-content:center;top:359.42px;-webkit-text-stroke:0.06px currentColor;font-size:6.20px;color:#1a1a1a;">2.1%</div>
<div class="t" style="right:180.80px;top:359.42px;-webkit-text-stroke:0.06px currentColor;font-size:6.20px;color:#1a1a1a;">3.00 [0.13, 68.84]</div>
<div class="t" style="left:6.50px;top:366.89px;-webkit-text-stroke:0.06px currentColor;font-size:6.20px;color:#1a1a1a;">Farraj 2004</div>
<div class="t" style="right:417.40px;top:366.89px;-webkit-text-stroke:0.06px currentColor;font-size:6.20px;color:#1a1a1a;">2</div>
<div class="t" style="right:376.10px;top:366.89px;-webkit-text-stroke:0.06px currentColor;font-size:6.20px;color:#1a1a1a;">32</div>
<div class="t" style="right:332.60px;top:366.89px;-webkit-text-stroke:0.06px currentColor;font-size:6.20px;color:#1a1a1a;">2</div>
<div class="t" style="right:291.00px;top:366.89px;-webkit-text-stroke:0.06px currentColor;font-size:6.20px;color:#1a1a1a;">32</div>
<div class="t" style="left:259.10px;width:0;display:flex;justify-content:center;top:366.89px;-webkit-text-stroke:0.06px currentColor;font-size:6.20px;color:#1a1a1a;">5.7%</div>
<div class="t" style="right:180.80px;top:366.89px;-webkit-text-stroke:0.06px currentColor;font-size:6.20px;color:#1a1a1a;">1.00 [0.15, 6.67]</div>
<div class="t" style="left:6.50px;top:374.36px;-webkit-text-stroke:0.06px currentColor;font-size:6.20px;color:#1a1a1a;">Kearon 1999</div>
<div class="t" style="right:417.40px;top:374.36px;-webkit-text-stroke:0.06px currentColor;font-size:6.20px;color:#1a1a1a;">3</div>
<div class="t" style="right:376.10px;top:374.36px;-webkit-text-stroke:0.06px currentColor;font-size:6.20px;color:#1a1a1a;">79</div>
<div class="t" style="right:332.60px;top:374.36px;-webkit-text-stroke:0.06px currentColor;font-size:6.20px;color:#1a1a1a;">0</div>
<div class="t" style="right:291.00px;top:374.36px;-webkit-text-stroke:0.06px currentColor;font-size:6.20px;color:#1a1a1a;">83</div>
<div class="t" style="left:259.10px;width:0;display:flex;justify-content:center;top:374.36px;-webkit-text-stroke:0.06px currentColor;font-size:6.20px;color:#1a1a1a;">2.4%</div>
<div class="t" style="right:180.80px;top:374.36px;-webkit-text-stroke:0.06px currentColor;font-size:6.20px;color:#1a1a1a;">7.35 [0.39, 140.05]</div>
<div class="t" style="left:6.50px;top:381.83px;-webkit-text-stroke:0.06px currentColor;font-size:6.20px;color:#1a1a1a;">Palareti 2006</div>
<div class="t" style="right:417.40px;top:381.83px;-webkit-text-stroke:0.06px currentColor;font-size:6.20px;color:#1a1a1a;">1</div>
<div class="t" style="right:376.10px;top:381.83px;-webkit-text-stroke:0.06px currentColor;font-size:6.20px;color:#1a1a1a;">103</div>
<div class="t" style="right:332.60px;top:381.83px;-webkit-text-stroke:0.06px currentColor;font-size:6.20px;color:#1a1a1a;">0</div>
<div class="t" style="right:291.00px;top:381.83px;-webkit-text-stroke:0.06px currentColor;font-size:6.20px;color:#1a1a1a;">120</div>
<div class="t" style="left:259.10px;width:0;display:flex;justify-content:center;top:381.83px;-webkit-text-stroke:0.06px currentColor;font-size:6.20px;color:#1a1a1a;">2.0%</div>
<div class="t" style="right:180.80px;top:381.83px;-webkit-text-stroke:0.06px currentColor;font-size:6.20px;color:#1a1a1a;">3.49 [0.14, 84.76]</div>
<div class="t" style="left:6.50px;top:389.30px;-webkit-text-stroke:0.06px currentColor;font-size:6.20px;color:#1a1a1a;">Ricker 2003</div>
<div class="t" style="right:417.40px;top:389.30px;-webkit-text-stroke:0.06px currentColor;font-size:6.20px;color:#1a1a1a;">5</div>
<div class="t" style="right:376.10px;top:389.30px;-webkit-text-stroke:0.06px currentColor;font-size:6.20px;color:#1a1a1a;">255</div>
<div class="t" style="right:332.60px;top:389.30px;-webkit-text-stroke:0.06px currentColor;font-size:6.20px;color:#1a1a1a;">2</div>
<div class="t" style="right:291.00px;top:389.30px;-webkit-text-stroke:0.06px currentColor;font-size:6.20px;color:#1a1a1a;">253</div>
<div class="t" style="left:259.10px;width:0;display:flex;justify-content:center;top:389.30px;-webkit-text-stroke:0.06px currentColor;font-size:6.20px;color:#1a1a1a;">7.8%</div>
<div class="t" style="right:180.80px;top:389.30px;-webkit-text-stroke:0.06px currentColor;font-size:6.20px;color:#1a1a1a;">2.48 [0.49, 12.67]</div>
<div class="t" style="left:6.50px;top:396.77px;-webkit-text-stroke:0.06px currentColor;font-size:6.20px;color:#1a1a1a;">Schulman 1997</div>
<div class="t" style="right:417.40px;top:396.77px;-webkit-text-stroke:0.06px currentColor;font-size:6.20px;color:#1a1a1a;">10</div>
<div class="t" style="right:376.10px;top:396.77px;-webkit-text-stroke:0.06px currentColor;font-size:6.20px;color:#1a1a1a;">116</div>
<div class="t" style="right:332.60px;top:396.77px;-webkit-text-stroke:0.06px currentColor;font-size:6.20px;color:#1a1a1a;">3</div>
<div class="t" style="right:291.00px;top:396.77px;-webkit-text-stroke:0.06px currentColor;font-size:6.20px;color:#1a1a1a;">111</div>
<div class="t" style="left:259.10px;width:0;display:flex;justify-content:center;top:396.77px;-webkit-text-stroke:0.06px currentColor;font-size:6.20px;color:#1a1a1a;">12.9%</div>
<div class="t" style="right:180.80px;top:396.77px;-webkit-text-stroke:0.06px currentColor;font-size:6.20px;color:#1a1a1a;">3.19 [0.90, 11.29]</div>
<div class="t" style="left:6.50px;top:404.24px;-webkit-text-stroke:0.06px currentColor;font-size:6.20px;color:#1a1a1a;">Schulman 2003*</div>
<div class="t" style="right:417.40px;top:404.24px;-webkit-text-stroke:0.06px currentColor;font-size:6.20px;color:#1a1a1a;">6</div>
<div class="t" style="right:376.10px;top:404.24px;-webkit-text-stroke:0.06px currentColor;font-size:6.20px;color:#1a1a1a;">612</div>
<div class="t" style="right:332.60px;top:404.24px;-webkit-text-stroke:0.06px currentColor;font-size:6.20px;color:#1a1a1a;">5</div>
<div class="t" style="right:291.00px;top:404.24px;-webkit-text-stroke:0.06px currentColor;font-size:6.20px;color:#1a1a1a;">611</div>
<div class="t" style="left:259.10px;width:0;display:flex;justify-content:center;top:404.24px;-webkit-text-stroke:0.06px currentColor;font-size:6.20px;color:#1a1a1a;">14.8%</div>
<div class="t" style="right:180.80px;top:404.24px;-webkit-text-stroke:0.06px currentColor;font-size:6.20px;color:#1a1a1a;">1.20 [0.37, 3.90]</div>
<div class="t" style="left:6.50px;top:411.71px;-webkit-text-stroke:0.06px currentColor;font-size:6.20px;color:#1a1a1a;">Schulman 2013*</div>
<div class="t" style="right:417.40px;top:411.71px;-webkit-text-stroke:0.06px currentColor;font-size:6.20px;color:#1a1a1a;">2</div>
<div class="t" style="right:376.10px;top:411.71px;-webkit-text-stroke:0.06px currentColor;font-size:6.20px;color:#1a1a1a;">681</div>
<div class="t" style="right:332.60px;top:411.71px;-webkit-text-stroke:0.06px currentColor;font-size:6.20px;color:#1a1a1a;">0</div>
<div class="t" style="right:291.00px;top:411.71px;-webkit-text-stroke:0.06px currentColor;font-size:6.20px;color:#1a1a1a;">662</div>
<div class="t" style="left:259.10px;width:0;display:flex;justify-content:center;top:411.71px;-webkit-text-stroke:0.06px currentColor;font-size:6.20px;color:#1a1a1a;">2.2%</div>
<div class="t" style="right:180.80px;top:411.71px;-webkit-text-stroke:0.06px currentColor;font-size:6.20px;color:#1a1a1a;">4.86 [0.23, 101.05]</div>
<div class="t" style="left:6.50px;top:419.18px;font-weight:bold;-webkit-text-stroke:0.1px currentColor;font-size:6.20px;color:#000;">Subtotal (95% CI)</div>
<div class="t" style="right:376.10px;top:419.18px;font-weight:bold;-webkit-text-stroke:0.1px currentColor;font-size:6.20px;color:#000;">4523</div>
<div class="t" style="right:291.00px;top:419.18px;font-weight:bold;-webkit-text-stroke:0.1px currentColor;font-size:6.20px;color:#000;">3687</div>
<div class="t" style="left:259.10px;width:0;display:flex;justify-content:center;top:419.18px;font-weight:bold;-webkit-text-stroke:0.1px currentColor;font-size:6.20px;color:#000;">78.5%</div>
<div class="t" style="right:180.80px;top:419.18px;font-weight:bold;-webkit-text-stroke:0.1px currentColor;font-size:6.20px;color:#000;">1.98 [1.18, 3.30]</div>
<div class="t" style="left:6.50px;top:426.65px;-webkit-text-stroke:0.06px currentColor;font-size:6.20px;color:#1a1a1a;">Total events</div>
<div class="t" style="right:417.40px;top:426.65px;-webkit-text-stroke:0.06px currentColor;font-size:6.20px;color:#1a1a1a;">50</div>
<div class="t" style="right:332.60px;top:426.65px;-webkit-text-stroke:0.06px currentColor;font-size:6.20px;color:#1a1a1a;">20</div>
<div class="t" style="left:6.50px;top:434.12px;-webkit-text-stroke:0.06px currentColor;font-size:6.20px;color:#1a1a1a;">Heterogeneity: Tau<sup>2</sup> = 0.00; Chi<sup>2</sup> = 9.71, df = 11 (<i>P</i> = .56); I<sup>2</sup> = 0%</div>
<div class="t" style="left:6.50px;top:441.59px;-webkit-text-stroke:0.06px currentColor;font-size:6.20px;color:#1a1a1a;">Test for overall effect: Z = 2.60 (<i>P</i> = .009)</div>
<div class="t" style="left:6.50px;top:456.53px;font-weight:bold;-webkit-text-stroke:0.1px currentColor;font-size:6.20px;color:#000;">3.4.2 Antiplatelet</div>
<div class="t" style="left:6.50px;top:464.00px;-webkit-text-stroke:0.06px currentColor;font-size:6.20px;color:#1a1a1a;">Becattini 2012</div>
<div class="t" style="right:417.40px;top:464.00px;-webkit-text-stroke:0.06px currentColor;font-size:6.20px;color:#1a1a1a;">1</div>
<div class="t" style="right:376.10px;top:464.00px;-webkit-text-stroke:0.06px currentColor;font-size:6.20px;color:#1a1a1a;">205</div>
<div class="t" style="right:332.60px;top:464.00px;-webkit-text-stroke:0.06px currentColor;font-size:6.20px;color:#1a1a1a;">1</div>
<div class="t" style="right:291.00px;top:464.00px;-webkit-text-stroke:0.06px currentColor;font-size:6.20px;color:#1a1a1a;">197</div>
<div class="t" style="left:259.10px;width:0;display:flex;justify-content:center;top:464.00px;-webkit-text-stroke:0.06px currentColor;font-size:6.20px;color:#1a1a1a;">2.7%</div>
<div class="t" style="right:180.80px;top:464.00px;-webkit-text-stroke:0.06px currentColor;font-size:6.20px;color:#1a1a1a;">0.96 [0.06, 15.26]</div>
<div class="t" style="left:6.50px;top:471.47px;-webkit-text-stroke:0.06px currentColor;font-size:6.20px;color:#1a1a1a;">Brighton 2012</div>
<div class="t" style="right:417.40px;top:471.47px;-webkit-text-stroke:0.06px currentColor;font-size:6.20px;color:#1a1a1a;">8</div>
<div class="t" style="right:376.10px;top:471.47px;-webkit-text-stroke:0.06px currentColor;font-size:6.20px;color:#1a1a1a;">411</div>
<div class="t" style="right:332.60px;top:471.47px;-webkit-text-stroke:0.06px currentColor;font-size:6.20px;color:#1a1a1a;">6</div>
<div class="t" style="right:291.00px;top:471.47px;-webkit-text-stroke:0.06px currentColor;font-size:6.20px;color:#1a1a1a;">411</div>
<div class="t" style="left:259.10px;width:0;display:flex;justify-content:center;top:471.47px;-webkit-text-stroke:0.06px currentColor;font-size:6.20px;color:#1a1a1a;">18.8%</div>
<div class="t" style="right:180.80px;top:471.47px;-webkit-text-stroke:0.06px currentColor;font-size:6.20px;color:#1a1a1a;">1.33 [0.47, 3.81]</div>
<div class="t" style="left:6.50px;top:478.94px;font-weight:bold;-webkit-text-stroke:0.1px currentColor;font-size:6.20px;color:#000;">Subtotal (95% CI)</div>
<div class="t" style="right:376.10px;top:478.94px;font-weight:bold;-webkit-text-stroke:0.1px currentColor;font-size:6.20px;color:#000;">616</div>
<div class="t" style="right:291.00px;top:478.94px;font-weight:bold;-webkit-text-stroke:0.1px currentColor;font-size:6.20px;color:#000;">608</div>
<div class="t" style="left:259.10px;width:0;display:flex;justify-content:center;top:478.94px;font-weight:bold;-webkit-text-stroke:0.1px currentColor;font-size:6.20px;color:#000;">21.5%</div>
<div class="t" style="right:180.80px;top:478.94px;font-weight:bold;-webkit-text-stroke:0.1px currentColor;font-size:6.20px;color:#000;">1.28 [0.48, 3.41]</div>
<div class="t" style="left:6.50px;top:486.41px;-webkit-text-stroke:0.06px currentColor;font-size:6.20px;color:#1a1a1a;">Total events</div>
<div class="t" style="right:417.40px;top:486.41px;-webkit-text-stroke:0.06px currentColor;font-size:6.20px;color:#1a1a1a;">9</div>
<div class="t" style="right:332.60px;top:486.41px;-webkit-text-stroke:0.06px currentColor;font-size:6.20px;color:#1a1a1a;">7</div>
<div class="t" style="left:6.50px;top:493.88px;-webkit-text-stroke:0.06px currentColor;font-size:6.20px;color:#1a1a1a;">Heterogeneity: Tau<sup>2</sup> = 0.00; Chi<sup>2</sup> = 0.05, df = 1 (<i>P</i> = .83); I<sup>2</sup> = 0%</div>
<div class="t" style="left:6.50px;top:501.35px;-webkit-text-stroke:0.06px currentColor;font-size:6.20px;color:#1a1a1a;">Test for overall effect: Z = 0.49 (<i>P</i> = .62)</div>
<div class="t" style="left:6.50px;top:516.29px;font-weight:bold;-webkit-text-stroke:0.1px currentColor;font-size:6.20px;color:#000;">Total (95% CI)</div>
<div class="t" style="right:376.10px;top:516.29px;font-weight:bold;-webkit-text-stroke:0.1px currentColor;font-size:6.20px;color:#000;">5139</div>
<div class="t" style="right:291.00px;top:516.29px;font-weight:bold;-webkit-text-stroke:0.1px currentColor;font-size:6.20px;color:#000;">4295</div>
<div class="t" style="left:259.10px;width:0;display:flex;justify-content:center;top:516.29px;font-weight:bold;-webkit-text-stroke:0.1px currentColor;font-size:6.20px;color:#000;">100.0%</div>
<div class="t" style="right:180.80px;top:516.29px;font-weight:bold;-webkit-text-stroke:0.1px currentColor;font-size:6.20px;color:#000;">1.80 [1.14, 2.84]</div>
<div class="t" style="left:6.50px;top:523.76px;-webkit-text-stroke:0.06px currentColor;font-size:6.20px;color:#1a1a1a;">Total events</div>
<div class="t" style="right:417.40px;top:523.76px;-webkit-text-stroke:0.06px currentColor;font-size:6.20px;color:#1a1a1a;">59</div>
<div class="t" style="right:332.60px;top:523.76px;-webkit-text-stroke:0.06px currentColor;font-size:6.20px;color:#1a1a1a;">27</div>
<div class="t" style="left:6.50px;top:531.23px;-webkit-text-stroke:0.06px currentColor;font-size:6.20px;color:#1a1a1a;">Heterogeneity: Tau<sup>2</sup> = 0.00; Chi<sup>2</sup> = 10.36, df = 13 (<i>P</i> = .66); I<sup>2</sup> = 0%</div>
<div class="t" style="left:6.50px;top:538.70px;-webkit-text-stroke:0.06px currentColor;font-size:6.20px;color:#1a1a1a;">Test for overall effect: Z = 2.54 (<i>P</i> = .01)</div>
<div class="t" style="left:6.50px;top:546.17px;-webkit-text-stroke:0.06px currentColor;font-size:6.20px;color:#1a1a1a;">Test for subgroup differences: Chi<sup>2</sup> = 0.59, df = 1 (<i>P</i> = .44), I<sup>2</sup> = 0%</div>
<div class="t" style="left:356.17px;width:0;display:flex;justify-content:center;top:535.20px;-webkit-text-stroke:0.06px currentColor;font-size:6.20px;color:#1a1a1a;">0.002</div>
<div class="t" style="left:385.90px;width:0;display:flex;justify-content:center;top:535.20px;-webkit-text-stroke:0.06px currentColor;font-size:6.20px;color:#1a1a1a;">0.1</div>
<div class="t" style="left:403.40px;width:0;display:flex;justify-content:center;top:535.20px;-webkit-text-stroke:0.06px currentColor;font-size:6.20px;color:#1a1a1a;">1</div>
<div class="t" style="left:420.90px;width:0;display:flex;justify-content:center;top:535.20px;-webkit-text-stroke:0.06px currentColor;font-size:6.20px;color:#1a1a1a;">10</div>
<div class="t" style="left:450.63px;width:0;display:flex;justify-content:center;top:535.20px;-webkit-text-stroke:0.06px currentColor;font-size:6.20px;color:#1a1a1a;">500</div>
<div class="t" style="left:380.00px;width:0;display:flex;justify-content:center;top:544.72px;-webkit-text-stroke:0.06px currentColor;font-size:5.85px;color:#1a1a1a;">Favours lower</div>
<div class="t" style="left:380.00px;width:0;display:flex;justify-content:center;top:552.32px;-webkit-text-stroke:0.06px currentColor;font-size:5.85px;color:#1a1a1a;">dose</div>
<div class="t" style="left:427.00px;width:0;display:flex;justify-content:center;top:544.72px;-webkit-text-stroke:0.06px currentColor;font-size:5.85px;color:#1a1a1a;">Favours standard</div>
<div class="t" style="left:426.50px;width:0;display:flex;justify-content:center;top:552.32px;-webkit-text-stroke:0.06px currentColor;font-size:5.85px;color:#1a1a1a;">dose</div>
<canvas id="tc" width="520" height="568"></canvas>
<div id="bd"></div>
</div>
<script>
var T=[[260.0,13.2,8.0,"c","#222",[["Deep Vein Thrombosis",false,false,false]]],[78.7,23.9,6.2,"l","#000",[["Indefinite antithrombotics",true,false,false]]],[166.3,23.9,6.2,"l","#000",[["Defined antithrombotics",true,false,false]]],[297.5,23.9,6.2,"l","#000",[["Risk Ratio",true,false,false]]],[388.2,23.9,6.2,"l","#000",[["Risk Ratio",true,false,false]]],[467.2,23.9,6.2,"l","#000",[["Risk of Bias",true,false,false]]],[6.5,31.65,6.2,"l","#000",[["Study or Subgroup",true,false,false]]],[89.4,31.65,6.2,"l","#000",[["Events",true,false,false]]],[131.4,31.65,6.2,"l","#000",[["Total",true,false,false]]],[174.0,31.65,6.2,"l","#000",[["Events",true,false,false]]],[216.3,31.65,6.2,"l","#000",[["Total",true,false,false]]],[250.0,31.65,6.2,"l","#000",[["Weight",true,false,false]]],[280.7,31.65,6.2,"l","#000",[["M-H, Random, 95% CI",true,false,false]]],[370.9,31.65,6.2,"l","#000",[["M-H, Random, 95% CI",true,false,false]]],[462.4,31.65,6.2,"c","#000",[["A",true,false,false]]],[469.82,31.65,6.2,"c","#000",[["B",true,false,false]]],[477.24,31.65,6.2,"c","#000",[["C",true,false,false]]],[484.66,31.65,6.2,"c","#000",[["D",true,false,false]]],[492.08,31.65,6.2,"c","#000",[["E",true,false,false]]],[499.5,31.65,6.2,"c","#000",[["F",true,false,false]]],[506.92,31.65,6.2,"c","#000",[["G",true,false,false]]],[6.5,43.9,6.2,"l","#000",[["3.3.1 Anticoagulation",true,false,false]]],[6.5,51.37,6.2,"l","#1a1a1a",[["Agnelli 2013*",false,false,false]]],[102.6,51.37,6.2,"r","#1a1a1a",[["14",false,false,false]]],[143.9,51.37,6.2,"r","#1a1a1a",[["1653",false,false,false]]],[192.7,51.37,6.2,"r","#1a1a1a",[["53",false,false,false]]],[229.0,51.37,6.2,"r","#1a1a1a",[["829",false,false,false]]],[270.6,51.37,6.2,"r","#1a1a1a",[["12.1%",false,false,false]]],[335.3,51.37,6.2,"r","#1a1a1a",[["0.13 [0.07, 0.24]",false,false,false]]],[6.5,58.84,6.2,"l","#1a1a1a",[["Couturaud 2015",false,false,false]]],[102.6,58.84,6.2,"r","#1a1a1a",[["1",false,false,false]]],[143.9,58.84,6.2,"r","#1a1a1a",[["184",false,false,false]]],[192.7,58.84,6.2,"r","#1a1a1a",[["4",false,false,false]]],[229.0,58.84,6.2,"r","#1a1a1a",[["187",false,false,false]]],[270.6,58.84,6.2,"r","#1a1a1a",[["5.4%",false,false,false]]],[335.3,58.84,6.2,"r","#1a1a1a",[["0.25 [0.03, 2.25]",false,false,false]]],[6.5,66.31,6.2,"l","#1a1a1a",[["Couturaud 2019",false,false,false]]],[102.6,66.31,6.2,"r","#1a1a1a",[["0",false,false,false]]],[143.9,66.31,6.2,"r","#1a1a1a",[["50",false,false,false]]],[192.7,66.31,6.2,"r","#1a1a1a",[["13",false,false,false]]],[229.0,66.31,6.2,"r","#1a1a1a",[["54",false,false,false]]],[270.6,66.31,6.2,"r","#1a1a1a",[["3.9%",false,false,false]]],[335.3,66.31,6.2,"r","#1a1a1a",[["0.04 [0.00, 0.65]",false,false,false]]],[6.5,73.78,6.2,"l","#1a1a1a",[["EINSTEIN 2010*",false,false,false]]],[102.6,73.78,6.2,"r","#1a1a1a",[["5",false,false,false]]],[143.9,73.78,6.2,"r","#1a1a1a",[["602",false,false,false]]],[192.7,73.78,6.2,"r","#1a1a1a",[["31",false,false,false]]],[229.0,73.78,6.2,"r","#1a1a1a",[["594",false,false,false]]],[270.6,73.78,6.2,"r","#1a1a1a",[["10.5%",false,false,false]]],[335.3,73.78,6.2,"r","#1a1a1a",[["0.16 [0.06, 0.41]",false,false,false]]],[6.5,81.25,6.2,"l","#1a1a1a",[["Eischer 2009",false,false,false]]],[102.6,81.25,6.2,"r","#1a1a1a",[["0",false,false,false]]],[143.9,81.25,6.2,"r","#1a1a1a",[["17",false,false,false]]],[192.7,81.25,6.2,"r","#1a1a1a",[["0",false,false,false]]],[229.0,81.25,6.2,"r","#1a1a1a",[["17",false,false,false]]],[335.3,81.25,6.2,"r","#1a1a1a",[["Not estimable",false,false,false]]],[6.5,88.72,6.2,"l","#1a1a1a",[["Farraj 2004",false,false,false]]],[102.6,88.72,6.2,"r","#1a1a1a",[["0",false,false,false]]],[143.9,88.72,6.2,"r","#1a1a1a",[["32",false,false,false]]],[192.7,88.72,6.2,"r","#1a1a1a",[["5",false,false,false]]],[229.0,88.72,6.2,"r","#1a1a1a",[["32",false,false,false]]],[270.6,88.72,6.2,"r","#1a1a1a",[["3.8%",false,false,false]]],[335.3,88.72,6.2,"r","#1a1a1a",[["0.09 [0.01, 1.58]",false,false,false]]],[6.5,96.19,6.2,"l","#1a1a1a",[["Kearon 1999",false,false,false]]],[102.6,96.19,6.2,"r","#1a1a1a",[["0",false,false,false]]],[143.9,96.19,6.2,"r","#1a1a1a",[["79",false,false,false]]],[192.7,96.19,6.2,"r","#1a1a1a",[["11",false,false,false]]],[229.0,96.19,6.2,"r","#1a1a1a",[["83",false,false,false]]],[270.6,96.19,6.2,"r","#1a1a1a",[["3.9%",false,false,false]]],[335.3,96.19,6.2,"r","#1a1a1a",[["0.05 [0.00, 0.76]",false,false,false]]],[6.5,103.66,6.2,"l","#1a1a1a",[["Palareti 2006",false,false,false]]],[102.6,103.66,6.2,"r","#1a1a1a",[["1",false,false,false]]],[143.9,103.66,6.2,"r","#1a1a1a",[["103",false,false,false]]],[192.7,103.66,6.2,"r","#1a1a1a",[["11",false,false,false]]],[229.0,103.66,6.2,"r","#1a1a1a",[["120",false,false,false]]],[270.6,103.66,6.2,"r","#1a1a1a",[["5.9%",false,false,false]]],[335.3,103.66,6.2,"r","#1a1a1a",[["0.11 [0.01, 0.81]",false,false,false]]],[6.5,111.13,6.2,"l","#1a1a1a",[["Schulman 2003*",false,false,false]]],[102.6,111.13,6.2,"r","#1a1a1a",[["10",false,false,false]]],[143.9,111.13,6.2,"r","#1a1a1a",[["612",false,false,false]]],[192.7,111.13,6.2,"r","#1a1a1a",[["48",false,false,false]]],[229.0,111.13,6.2,"r","#1a1a1a",[["611",false,false,false]]],[270.6,111.13,6.2,"r","#1a1a1a",[["11.8%",false,false,false]]],[335.3,111.13,6.2,"r","#1a1a1a",[["0.21 [0.11, 0.41]",false,false,false]]],[6.5,118.6,6.2,"l","#1a1a1a",[["Schulman 2013*",false,false,false]]],[102.6,118.6,6.2,"r","#1a1a1a",[["2",false,false,false]]],[143.9,118.6,6.2,"r","#1a1a1a",[["681",false,false,false]]],[192.7,118.6,6.2,"r","#1a1a1a",[["22",false,false,false]]],[229.0,118.6,6.2,"r","#1a1a1a",[["662",false,false,false]]],[270.6,118.6,6.2,"r","#1a1a1a",[["8.1%",false,false,false]]],[335.3,118.6,6.2,"r","#1a1a1a",[["0.09 [0.02, 0.37]",false,false,false]]],[6.5,126.07,6.2,"l","#000",[["Subtotal (95% CI)",true,false,false]]],[143.9,126.07,6.2,"r","#000",[["4013",true,false,false]]],[229.0,126.07,6.2,"r","#000",[["3189",true,false,false]]],[270.6,126.07,6.2,"r","#000",[["65.5%",true,false,false]]],[335.3,126.07,6.2,"r","#000",[["0.15 [0.10, 0.21]",true,false,false]]],[6.5,133.54,6.2,"l","#1a1a1a",[["Total events",false,false,false]]],[102.6,133.54,6.2,"r","#1a1a1a",[["33",false,false,false]]],[192.7,133.54,6.2,"r","#1a1a1a",[["198",false,false,false]]],[6.5,141.01,6.2,"l","#1a1a1a",[["Heterogeneity: Tau",false,false,false],["2",false,false,true],[" = 0.00; Chi",false,false,false],["2",false,false,true],[" = 3.69, df = 8 (",false,false,false],["P",false,true,false],[" = .88); I",false,false,false],["2",false,false,true],[" = 0%",false,false,false]]],[6.5,148.48,6.2,"l","#1a1a1a",[["Test for overall effect: Z = 10.38 (",false,false,false],["P",false,true,false],[" < .00001)",false,false,false]]],[6.5,163.42,6.2,"l","#000",[["3.3.2 Antiplatelet",true,false,false]]],[6.5,170.89,6.2,"l","#1a1a1a",[["Becattini 2012",false,false,false]]],[102.6,170.89,6.2,"r","#1a1a1a",[["16",false,false,false]]],[143.9,170.89,6.2,"r","#1a1a1a",[["205",false,false,false]]],[192.7,170.89,6.2,"r","#1a1a1a",[["28",false,false,false]]],[229.0,170.89,6.2,"r","#1a1a1a",[["197",false,false,false]]],[270.6,170.89,6.2,"r","#1a1a1a",[["12.2%",false,false,false]]],[335.3,170.89,6.2,"r","#1a1a1a",[["0.55 [0.31, 0.98]",false,false,false]]],[6.5,178.36,6.2,"l","#1a1a1a",[["Belcaro 1993",false,false,false]]],[102.6,178.36,6.2,"r","#1a1a1a",[["3",false,false,false]]],[143.9,178.36,6.2,"r","#1a1a1a",[["60",false,false,false]]],[192.7,178.36,6.2,"r","#1a1a1a",[["29",false,false,false]]],[229.0,178.36,6.2,"r","#1a1a1a",[["63",false,false,false]]],[270.6,178.36,6.2,"r","#1a1a1a",[["9.6%",false,false,false]]],[335.3,178.36,6.2,"r","#1a1a1a",[["0.11 [0.03, 0.34]",false,false,false]]],[6.5,185.83,6.2,"l","#1a1a1a",[["Brighton 2012",false,false,false]]],[102.6,185.83,6.2,"r","#1a1a1a",[["39",false,false,false]]],[143.9,185.83,6.2,"r","#1a1a1a",[["411",false,false,false]]],[192.7,185.83,6.2,"r","#1a1a1a",[["43",false,false,false]]],[229.0,185.83,6.2,"r","#1a1a1a",[["411",false,false,false]]],[270.6,185.83,6.2,"r","#1a1a1a",[["12.8%",false,false,false]]],[335.3,185.83,6.2,"r","#1a1a1a",[["0.91 [0.60, 1.37]",false,false,false]]],[6.5,193.3,6.2,"l","#000",[["Subtotal (95% CI)",true,false,false]]],[143.9,193.3,6.2,"r","#000",[["676",true,false,false]]],[229.0,193.3,6.2,"r","#000",[["671",true,false,false]]],[270.6,193.3,6.2,"r","#000",[["34.5%",true,false,false]]],[335.3,193.3,6.2,"r","#000",[["0.44 [0.17, 1.13]",true,false,false]]],[6.5,200.77,6.2,"l","#1a1a1a",[["Total events",false,false,false]]],[102.6,200.77,6.2,"r","#1a1a1a",[["58",false,false,false]]],[192.7,200.77,6.2,"r","#1a1a1a",[["100",false,false,false]]],[6.5,208.24,6.2,"l","#1a1a1a",[["Heterogeneity: Tau",false,false,false],["2",false,false,true],[" = 0.57; Chi",false,false,false],["2",false,false,true],[" = 12.97, df = 2 (",false,false,false],["P",false,true,false],[" = .002); I",false,false,false],["2",false,false,true],[" = 85%",false,false,false]]],[6.5,215.71,6.2,"l","#1a1a1a",[["Test for overall effect: Z = 1.71 (",false,false,false],["P",false,true,false],[" = .09)",false,false,false]]],[6.5,230.65,6.2,"l","#000",[["Total (95% CI)",true,false,false]]],[143.9,230.65,6.2,"r","#000",[["4689",true,false,false]]],[229.0,230.65,6.2,"r","#000",[["3860",true,false,false]]],[270.6,230.65,6.2,"r","#000",[["100.0%",true,false,false]]],[335.3,230.65,6.2,"r","#000",[["0.19 [0.10, 0.37]",true,false,false]]],[6.5,238.12,6.2,"l","#1a1a1a",[["Total events",false,false,false]]],[102.6,238.12,6.2,"r","#1a1a1a",[["91",false,false,false]]],[192.7,238.12,6.2,"r","#1a1a1a",[["298",false,false,false]]],[6.5,245.59,6.2,"l","#1a1a1a",[["Heterogeneity: Tau",false,false,false],["2",false,false,true],[" = 0.84; Chi",false,false,false],["2",false,false,true],[" = 55.29, df = 11 (",false,false,false],["P",false,true,false],[" < .00001); I",false,false,false],["2",false,false,true],[" = 80%",false,false,false]]],[6.5,253.06,6.2,"l","#1a1a1a",[["Test for overall effect: Z = 4.96 (",false,false,false],["P",false,true,false],[" < .00001)",false,false,false]]],[6.5,260.53,6.2,"l","#1a1a1a",[["Test for subgroup differences: Chi",false,false,false],["2",false,false,true],[" = 4.48, df = 1 (",false,false,false],["P",false,true,false],[" = .03), I",false,false,false],["2",false,false,true],[" = 77.6%",false,false,false]]],[360.63,249.7,6.2,"c","#1a1a1a",[["0.005",false,false,false]]],[386.0,249.7,6.2,"c","#1a1a1a",[["0.1",false,false,false]]],[405.5,249.7,6.2,"c","#1a1a1a",[["1",false,false,false]]],[425.0,249.7,6.2,"c","#1a1a1a",[["10",false,false,false]]],[450.37,249.7,6.2,"c","#1a1a1a",[["200",false,false,false]]],[380.0,259.1,5.85,"c","#1a1a1a",[["Favours lower",false,false,false]]],[379.8,266.4,5.85,"c","#1a1a1a",[["dose",false,false,false]]],[427.0,259.1,5.85,"c","#1a1a1a",[["Favours standard",false,false,false]]],[426.7,266.4,5.85,"c","#1a1a1a",[["dose",false,false,false]]],[260.0,290.6,8.0,"c","#222",[["Major Bleeding",false,false,false]]],[78.7,300.8,6.2,"l","#000",[["Indefinite antithrombotics",true,false,false]]],[166.3,300.8,6.2,"l","#000",[["Defined antithrombotics",true,false,false]]],[297.5,300.8,6.2,"l","#000",[["Risk Ratio",true,false,false]]],[388.2,300.8,6.2,"l","#000",[["Risk Ratio",true,false,false]]],[467.2,300.8,6.2,"l","#000",[["Risk of Bias",true,false,false]]],[6.5,308.55,6.2,"l","#000",[["Study or Subgroup",true,false,false]]],[89.4,308.55,6.2,"l","#000",[["Events",true,false,false]]],[131.4,308.55,6.2,"l","#000",[["Total",true,false,false]]],[174.0,308.55,6.2,"l","#000",[["Events",true,false,false]]],[216.3,308.55,6.2,"l","#000",[["Total",true,false,false]]],[250.0,308.55,6.2,"l","#000",[["Weight",true,false,false]]],[280.7,308.55,6.2,"l","#000",[["M-H, Random, 95% CI",true,false,false]]],[370.9,308.55,6.2,"l","#000",[["M-H, Random, 95% CI",true,false,false]]],[462.4,308.55,6.2,"c","#000",[["A",true,false,false]]],[469.82,308.55,6.2,"c","#000",[["B",true,false,false]]],[477.24,308.55,6.2,"c","#000",[["C",true,false,false]]],[484.66,308.55,6.2,"c","#000",[["D",true,false,false]]],[492.08,308.55,6.2,"c","#000",[["E",true,false,false]]],[499.5,308.55,6.2,"c","#000",[["F",true,false,false]]],[506.92,308.55,6.2,"c","#000",[["G",true,false,false]]],[6.5,320.8,6.2,"l","#000",[["3.4.1 Anticoagulation",true,false,false]]],[6.5,328.27,6.2,"l","#1a1a1a",[["Agnelli 2013*",false,false,false]]],[102.6,328.27,6.2,"r","#1a1a1a",[["3",false,false,false]]],[143.9,328.27,6.2,"r","#1a1a1a",[["1653",false,false,false]]],[187.4,328.27,6.2,"r","#1a1a1a",[["4",false,false,false]]],[229.0,328.27,6.2,"r","#1a1a1a",[["829",false,false,false]]],[259.1,328.27,6.2,"c","#1a1a1a",[["9.3%",false,false,false]]],[339.2,328.27,6.2,"r","#1a1a1a",[["0.38 [0.08, 1.68]",false,false,false]]],[6.5,335.74,6.2,"l","#1a1a1a",[["Bradbury 2020",false,false,false]]],[102.6,335.74,6.2,"r","#1a1a1a",[["9",false,false,false]]],[143.9,335.74,6.2,"r","#1a1a1a",[["139",false,false,false]]],[187.4,335.74,6.2,"r","#1a1a1a",[["3",false,false,false]]],[229.0,335.74,6.2,"r","#1a1a1a",[["134",false,false,false]]],[259.1,335.74,6.2,"c","#1a1a1a",[["12.5%",false,false,false]]],[339.2,335.74,6.2,"r","#1a1a1a",[["2.89 [0.80, 10.45]",false,false,false]]],[6.5,343.21,6.2,"l","#1a1a1a",[["Couturaud 2015",false,false,false]]],[102.6,343.21,6.2,"r","#1a1a1a",[["4",false,false,false]]],[143.9,343.21,6.2,"r","#1a1a1a",[["184",false,false,false]]],[187.4,343.21,6.2,"r","#1a1a1a",[["1",false,false,false]]],[229.0,343.21,6.2,"r","#1a1a1a",[["187",false,false,false]]],[259.1,343.21,6.2,"c","#1a1a1a",[["4.3%",false,false,false]]],[339.2,343.21,6.2,"r","#1a1a1a",[["4.07 [0.46, 36.03]",false,false,false]]],[6.5,350.68,6.2,"l","#1a1a1a",[["Couturaud 2019",false,false,false]]],[102.6,350.68,6.2,"r","#1a1a1a",[["0",false,false,false]]],[143.9,350.68,6.2,"r","#1a1a1a",[["50",false,false,false]]],[187.4,350.68,6.2,"r","#1a1a1a",[["0",false,false,false]]],[229.0,350.68,6.2,"r","#1a1a1a",[["54",false,false,false]]],[339.2,350.68,6.2,"r","#1a1a1a",[["Not estimable",false,false,false]]],[6.5,358.15,6.2,"l","#1a1a1a",[["EINSTEIN 2010*",false,false,false]]],[102.6,358.15,6.2,"r","#1a1a1a",[["4",false,false,false]]],[143.9,358.15,6.2,"r","#1a1a1a",[["602",false,false,false]]],[187.4,358.15,6.2,"r","#1a1a1a",[["0",false,false,false]]],[229.0,358.15,6.2,"r","#1a1a1a",[["594",false,false,false]]],[259.1,358.15,6.2,"c","#1a1a1a",[["2.4%",false,false,false]]],[339.2,358.15,6.2,"r","#1a1a1a",[["8.88 [0.48, 164.58]",false,false,false]]],[6.5,365.62,6.2,"l","#1a1a1a",[["Eischer 2009",false,false,false]]],[102.6,365.62,6.2,"r","#1a1a1a",[["1",false,false,false]]],[143.9,365.62,6.2,"r","#1a1a1a",[["17",false,false,false]]],[187.4,365.62,6.2,"r","#1a1a1a",[["0",false,false,false]]],[229.0,365.62,6.2,"r","#1a1a1a",[["17",false,false,false]]],[259.1,365.62,6.2,"c","#1a1a1a",[["2.1%",false,false,false]]],[339.2,365.62,6.2,"r","#1a1a1a",[["3.00 [0.13, 68.84]",false,false,false]]],[6.5,373.09,6.2,"l","#1a1a1a",[["Farraj 2004",false,false,false]]],[102.6,373.09,6.2,"r","#1a1a1a",[["2",false,false,false]]],[143.9,373.09,6.2,"r","#1a1a1a",[["32",false,false,false]]],[187.4,373.09,6.2,"r","#1a1a1a",[["2",false,false,false]]],[229.0,373.09,6.2,"r","#1a1a1a",[["32",false,false,false]]],[259.1,373.09,6.2,"c","#1a1a1a",[["5.7%",false,false,false]]],[339.2,373.09,6.2,"r","#1a1a1a",[["1.00 [0.15, 6.67]",false,false,false]]],[6.5,380.56,6.2,"l","#1a1a1a",[["Kearon 1999",false,false,false]]],[102.6,380.56,6.2,"r","#1a1a1a",[["3",false,false,false]]],[143.9,380.56,6.2,"r","#1a1a1a",[["79",false,false,false]]],[187.4,380.56,6.2,"r","#1a1a1a",[["0",false,false,false]]],[229.0,380.56,6.2,"r","#1a1a1a",[["83",false,false,false]]],[259.1,380.56,6.2,"c","#1a1a1a",[["2.4%",false,false,false]]],[339.2,380.56,6.2,"r","#1a1a1a",[["7.35 [0.39, 140.05]",false,false,false]]],[6.5,388.03,6.2,"l","#1a1a1a",[["Palareti 2006",false,false,false]]],[102.6,388.03,6.2,"r","#1a1a1a",[["1",false,false,false]]],[143.9,388.03,6.2,"r","#1a1a1a",[["103",false,false,false]]],[187.4,388.03,6.2,"r","#1a1a1a",[["0",false,false,false]]],[229.0,388.03,6.2,"r","#1a1a1a",[["120",false,false,false]]],[259.1,388.03,6.2,"c","#1a1a1a",[["2.0%",false,false,false]]],[339.2,388.03,6.2,"r","#1a1a1a",[["3.49 [0.14, 84.76]",false,false,false]]],[6.5,395.5,6.2,"l","#1a1a1a",[["Ricker 2003",false,false,false]]],[102.6,395.5,6.2,"r","#1a1a1a",[["5",false,false,false]]],[143.9,395.5,6.2,"r","#1a1a1a",[["255",false,false,false]]],[187.4,395.5,6.2,"r","#1a1a1a",[["2",false,false,false]]],[229.0,395.5,6.2,"r","#1a1a1a",[["253",false,false,false]]],[259.1,395.5,6.2,"c","#1a1a1a",[["7.8%",false,false,false]]],[339.2,395.5,6.2,"r","#1a1a1a",[["2.48 [0.49, 12.67]",false,false,false]]],[6.5,402.97,6.2,"l","#1a1a1a",[["Schulman 1997",false,false,false]]],[102.6,402.97,6.2,"r","#1a1a1a",[["10",false,false,false]]],[143.9,402.97,6.2,"r","#1a1a1a",[["116",false,false,false]]],[187.4,402.97,6.2,"r","#1a1a1a",[["3",false,false,false]]],[229.0,402.97,6.2,"r","#1a1a1a",[["111",false,false,false]]],[259.1,402.97,6.2,"c","#1a1a1a",[["12.9%",false,false,false]]],[339.2,402.97,6.2,"r","#1a1a1a",[["3.19 [0.90, 11.29]",false,false,false]]],[6.5,410.44,6.2,"l","#1a1a1a",[["Schulman 2003*",false,false,false]]],[102.6,410.44,6.2,"r","#1a1a1a",[["6",false,false,false]]],[143.9,410.44,6.2,"r","#1a1a1a",[["612",false,false,false]]],[187.4,410.44,6.2,"r","#1a1a1a",[["5",false,false,false]]],[229.0,410.44,6.2,"r","#1a1a1a",[["611",false,false,false]]],[259.1,410.44,6.2,"c","#1a1a1a",[["14.8%",false,false,false]]],[339.2,410.44,6.2,"r","#1a1a1a",[["1.20 [0.37, 3.90]",false,false,false]]],[6.5,417.91,6.2,"l","#1a1a1a",[["Schulman 2013*",false,false,false]]],[102.6,417.91,6.2,"r","#1a1a1a",[["2",false,false,false]]],[143.9,417.91,6.2,"r","#1a1a1a",[["681",false,false,false]]],[187.4,417.91,6.2,"r","#1a1a1a",[["0",false,false,false]]],[229.0,417.91,6.2,"r","#1a1a1a",[["662",false,false,false]]],[259.1,417.91,6.2,"c","#1a1a1a",[["2.2%",false,false,false]]],[339.2,417.91,6.2,"r","#1a1a1a",[["4.86 [0.23, 101.05]",false,false,false]]],[6.5,425.38,6.2,"l","#000",[["Subtotal (95% CI)",true,false,false]]],[143.9,425.38,6.2,"r","#000",[["4523",true,false,false]]],[229.0,425.38,6.2,"r","#000",[["3687",true,false,false]]],[259.1,425.38,6.2,"c","#000",[["78.5%",true,false,false]]],[339.2,425.38,6.2,"r","#000",[["1.98 [1.18, 3.30]",true,false,false]]],[6.5,432.85,6.2,"l","#1a1a1a",[["Total events",false,false,false]]],[102.6,432.85,6.2,"r","#1a1a1a",[["50",false,false,false]]],[187.4,432.85,6.2,"r","#1a1a1a",[["20",false,false,false]]],[6.5,440.32,6.2,"l","#1a1a1a",[["Heterogeneity: Tau",false,false,false],["2",false,false,true],[" = 0.00; Chi",false,false,false],["2",false,false,true],[" = 9.71, df = 11 (",false,false,false],["P",false,true,false],[" = .56); I",false,false,false],["2",false,false,true],[" = 0%",false,false,false]]],[6.5,447.79,6.2,"l","#1a1a1a",[["Test for overall effect: Z = 2.60 (",false,false,false],["P",false,true,false],[" = .009)",false,false,false]]],[6.5,462.73,6.2,"l","#000",[["3.4.2 Antiplatelet",true,false,false]]],[6.5,470.2,6.2,"l","#1a1a1a",[["Becattini 2012",false,false,false]]],[102.6,470.2,6.2,"r","#1a1a1a",[["1",false,false,false]]],[143.9,470.2,6.2,"r","#1a1a1a",[["205",false,false,false]]],[187.4,470.2,6.2,"r","#1a1a1a",[["1",false,false,false]]],[229.0,470.2,6.2,"r","#1a1a1a",[["197",false,false,false]]],[259.1,470.2,6.2,"c","#1a1a1a",[["2.7%",false,false,false]]],[339.2,470.2,6.2,"r","#1a1a1a",[["0.96 [0.06, 15.26]",false,false,false]]],[6.5,477.67,6.2,"l","#1a1a1a",[["Brighton 2012",false,false,false]]],[102.6,477.67,6.2,"r","#1a1a1a",[["8",false,false,false]]],[143.9,477.67,6.2,"r","#1a1a1a",[["411",false,false,false]]],[187.4,477.67,6.2,"r","#1a1a1a",[["6",false,false,false]]],[229.0,477.67,6.2,"r","#1a1a1a",[["411",false,false,false]]],[259.1,477.67,6.2,"c","#1a1a1a",[["18.8%",false,false,false]]],[339.2,477.67,6.2,"r","#1a1a1a",[["1.33 [0.47, 3.81]",false,false,false]]],[6.5,485.14,6.2,"l","#000",[["Subtotal (95% CI)",true,false,false]]],[143.9,485.14,6.2,"r","#000",[["616",true,false,false]]],[229.0,485.14,6.2,"r","#000",[["608",true,false,false]]],[259.1,485.14,6.2,"c","#000",[["21.5%",true,false,false]]],[339.2,485.14,6.2,"r","#000",[["1.28 [0.48, 3.41]",true,false,false]]],[6.5,492.61,6.2,"l","#1a1a1a",[["Total events",false,false,false]]],[102.6,492.61,6.2,"r","#1a1a1a",[["9",false,false,false]]],[187.4,492.61,6.2,"r","#1a1a1a",[["7",false,false,false]]],[6.5,500.08,6.2,"l","#1a1a1a",[["Heterogeneity: Tau",false,false,false],["2",false,false,true],[" = 0.00; Chi",false,false,false],["2",false,false,true],[" = 0.05, df = 1 (",false,false,false],["P",false,true,false],[" = .83); I",false,false,false],["2",false,false,true],[" = 0%",false,false,false]]],[6.5,507.55,6.2,"l","#1a1a1a",[["Test for overall effect: Z = 0.49 (",false,false,false],["P",false,true,false],[" = .62)",false,false,false]]],[6.5,522.49,6.2,"l","#000",[["Total (95% CI)",true,false,false]]],[143.9,522.49,6.2,"r","#000",[["5139",true,false,false]]],[229.0,522.49,6.2,"r","#000",[["4295",true,false,false]]],[259.1,522.49,6.2,"c","#000",[["100.0%",true,false,false]]],[339.2,522.49,6.2,"r","#000",[["1.80 [1.14, 2.84]",true,false,false]]],[6.5,529.96,6.2,"l","#1a1a1a",[["Total events",false,false,false]]],[102.6,529.96,6.2,"r","#1a1a1a",[["59",false,false,false]]],[187.4,529.96,6.2,"r","#1a1a1a",[["27",false,false,false]]],[6.5,537.43,6.2,"l","#1a1a1a",[["Heterogeneity: Tau",false,false,false],["2",false,false,true],[" = 0.00; Chi",false,false,false],["2",false,false,true],[" = 10.36, df = 13 (",false,false,false],["P",false,true,false],[" = .66); I",false,false,false],["2",false,false,true],[" = 0%",false,false,false]]],[6.5,544.9,6.2,"l","#1a1a1a",[["Test for overall effect: Z = 2.54 (",false,false,false],["P",false,true,false],[" = .01)",false,false,false]]],[6.5,552.37,6.2,"l","#1a1a1a",[["Test for subgroup differences: Chi",false,false,false],["2",false,false,true],[" = 0.59, df = 1 (",false,false,false],["P",false,true,false],[" = .44), I",false,false,false],["2",false,false,true],[" = 0%",false,false,false]]],[356.17,541.4,6.2,"c","#1a1a1a",[["0.002",false,false,false]]],[385.9,541.4,6.2,"c","#1a1a1a",[["0.1",false,false,false]]],[403.4,541.4,6.2,"c","#1a1a1a",[["1",false,false,false]]],[420.9,541.4,6.2,"c","#1a1a1a",[["10",false,false,false]]],[450.63,541.4,6.2,"c","#1a1a1a",[["500",false,false,false]]],[380.0,550.8,5.85,"c","#1a1a1a",[["Favours lower",false,false,false]]],[380.0,558.4,5.85,"c","#1a1a1a",[["dose",false,false,false]]],[427.0,550.8,5.85,"c","#1a1a1a",[["Favours standard",false,false,false]]],[426.5,558.4,5.85,"c","#1a1a1a",[["dose",false,false,false]]]];
(function(){try{
if(document.fonts&&document.fonts.check&&!document.fonts.check('6px "Liberation Sans"'))return;
var S=4,W=520,H=568,off=document.createElement('canvas');off.width=W*S;off.height=H*S;
var o=off.getContext('2d');o.scale(S,S);o.textBaseline='alphabetic';
function F(fs,b,i){return (i?'italic ':'')+(b?'bold ':'')+fs+'px "Liberation Sans"';}
for(var k=0;k<T.length;k++){var t=T[k],x=t[0],bl=t[1],fs=t[2],al=t[3],runs=t[5],w=0,ws=[];
for(var j=0;j<runs.length;j++){var r=runs[j];o.font=F(r[3]?fs*0.6:fs,r[1],r[2]);var m=o.measureText(r[0]).width;ws.push(m);w+=m;}
var cx=al=='l'?x:(al=='r'?x-w:x-w/2);o.fillStyle=t[4];o.strokeStyle=t[4];
for(var j=0;j<runs.length;j++){var r=runs[j];o.font=F(r[3]?fs*0.6:fs,r[1],r[2]);var yy=r[3]?bl-fs*0.33:bl;o.fillText(r[0],cx,yy);if(0.08>0){o.lineWidth=r[1]?0.1:0.08;o.strokeText(r[0],cx,yy);}cx+=ws[j];}}
var c=document.getElementById('tc').getContext('2d');c.imageSmoothingEnabled=true;c.imageSmoothingQuality='high';
c.drawImage(off,0,0,W,H);document.getElementById('c').className='cv';
}catch(e){}})();
</script>
</body></html>
